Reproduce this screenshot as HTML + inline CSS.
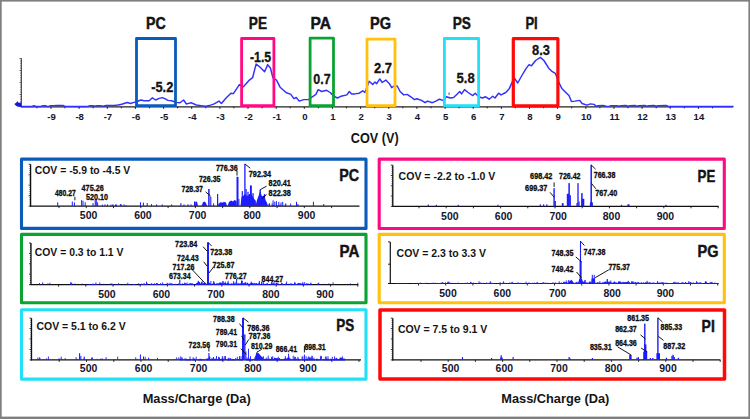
<!DOCTYPE html>
<html><head><meta charset="utf-8"><title>COV lipid classes</title>
<style>
html,body{margin:0;padding:0;background:#fff;}
body{width:750px;height:419px;overflow:hidden;font-family:"Liberation Sans",sans-serif;}
svg{display:block;font-family:"Liberation Sans",sans-serif;font-weight:bold;}
</style></head><body>
<svg width="750" height="419" viewBox="0 0 750 419">
<rect x="0" y="0" width="750" height="419" fill="#fff"/>
<line x1="21.3" y1="106.9" x2="733.0" y2="106.9" stroke="#222" stroke-width="1.1"/>
<line x1="21.3" y1="58.2" x2="21.3" y2="107.4" stroke="#111" stroke-width="0.9"/>
<line x1="19.5" y1="58.5" x2="21.3" y2="58.5" stroke="#111" stroke-width="0.6"/>
<line x1="20.3" y1="60.9" x2="21.3" y2="60.9" stroke="#111" stroke-width="0.6"/>
<line x1="20.3" y1="63.3" x2="21.3" y2="63.3" stroke="#111" stroke-width="0.6"/>
<line x1="20.3" y1="65.7" x2="21.3" y2="65.7" stroke="#111" stroke-width="0.6"/>
<line x1="20.3" y1="68.1" x2="21.3" y2="68.1" stroke="#111" stroke-width="0.6"/>
<line x1="19.5" y1="70.5" x2="21.3" y2="70.5" stroke="#111" stroke-width="0.6"/>
<line x1="20.3" y1="72.9" x2="21.3" y2="72.9" stroke="#111" stroke-width="0.6"/>
<line x1="20.3" y1="75.3" x2="21.3" y2="75.3" stroke="#111" stroke-width="0.6"/>
<line x1="20.3" y1="77.7" x2="21.3" y2="77.7" stroke="#111" stroke-width="0.6"/>
<line x1="20.3" y1="80.1" x2="21.3" y2="80.1" stroke="#111" stroke-width="0.6"/>
<line x1="19.5" y1="82.5" x2="21.3" y2="82.5" stroke="#111" stroke-width="0.6"/>
<line x1="20.3" y1="84.9" x2="21.3" y2="84.9" stroke="#111" stroke-width="0.6"/>
<line x1="20.3" y1="87.3" x2="21.3" y2="87.3" stroke="#111" stroke-width="0.6"/>
<line x1="20.3" y1="89.7" x2="21.3" y2="89.7" stroke="#111" stroke-width="0.6"/>
<line x1="20.3" y1="92.1" x2="21.3" y2="92.1" stroke="#111" stroke-width="0.6"/>
<line x1="19.5" y1="94.5" x2="21.3" y2="94.5" stroke="#111" stroke-width="0.6"/>
<line x1="20.3" y1="96.9" x2="21.3" y2="96.9" stroke="#111" stroke-width="0.6"/>
<line x1="20.3" y1="99.3" x2="21.3" y2="99.3" stroke="#111" stroke-width="0.6"/>
<line x1="20.3" y1="101.7" x2="21.3" y2="101.7" stroke="#111" stroke-width="0.6"/>
<line x1="20.3" y1="104.1" x2="21.3" y2="104.1" stroke="#111" stroke-width="0.6"/>
<line x1="19.5" y1="106.5" x2="21.3" y2="106.5" stroke="#111" stroke-width="0.6"/>
<line x1="36.9" y1="106.9" x2="36.9" y2="108.3" stroke="#111" stroke-width="0.9"/>
<line x1="51.0" y1="106.9" x2="51.0" y2="108.9" stroke="#111" stroke-width="0.9"/>
<line x1="65.0" y1="106.9" x2="65.0" y2="108.3" stroke="#111" stroke-width="0.9"/>
<line x1="79.1" y1="106.9" x2="79.1" y2="108.9" stroke="#111" stroke-width="0.9"/>
<line x1="93.2" y1="106.9" x2="93.2" y2="108.3" stroke="#111" stroke-width="0.9"/>
<line x1="107.3" y1="106.9" x2="107.3" y2="108.9" stroke="#111" stroke-width="0.9"/>
<line x1="121.3" y1="106.9" x2="121.3" y2="108.3" stroke="#111" stroke-width="0.9"/>
<line x1="135.4" y1="106.9" x2="135.4" y2="108.9" stroke="#111" stroke-width="0.9"/>
<line x1="149.5" y1="106.9" x2="149.5" y2="108.3" stroke="#111" stroke-width="0.9"/>
<line x1="163.6" y1="106.9" x2="163.6" y2="108.9" stroke="#111" stroke-width="0.9"/>
<line x1="177.6" y1="106.9" x2="177.6" y2="108.3" stroke="#111" stroke-width="0.9"/>
<line x1="191.7" y1="106.9" x2="191.7" y2="108.9" stroke="#111" stroke-width="0.9"/>
<line x1="205.8" y1="106.9" x2="205.8" y2="108.3" stroke="#111" stroke-width="0.9"/>
<line x1="219.9" y1="106.9" x2="219.9" y2="108.9" stroke="#111" stroke-width="0.9"/>
<line x1="233.9" y1="106.9" x2="233.9" y2="108.3" stroke="#111" stroke-width="0.9"/>
<line x1="248.0" y1="106.9" x2="248.0" y2="108.9" stroke="#111" stroke-width="0.9"/>
<line x1="262.1" y1="106.9" x2="262.1" y2="108.3" stroke="#111" stroke-width="0.9"/>
<line x1="276.2" y1="106.9" x2="276.2" y2="108.9" stroke="#111" stroke-width="0.9"/>
<line x1="290.2" y1="106.9" x2="290.2" y2="108.3" stroke="#111" stroke-width="0.9"/>
<line x1="304.3" y1="106.9" x2="304.3" y2="108.9" stroke="#111" stroke-width="0.9"/>
<line x1="318.4" y1="106.9" x2="318.4" y2="108.3" stroke="#111" stroke-width="0.9"/>
<line x1="332.4" y1="106.9" x2="332.4" y2="108.9" stroke="#111" stroke-width="0.9"/>
<line x1="346.5" y1="106.9" x2="346.5" y2="108.3" stroke="#111" stroke-width="0.9"/>
<line x1="360.6" y1="106.9" x2="360.6" y2="108.9" stroke="#111" stroke-width="0.9"/>
<line x1="374.7" y1="106.9" x2="374.7" y2="108.3" stroke="#111" stroke-width="0.9"/>
<line x1="388.8" y1="106.9" x2="388.8" y2="108.9" stroke="#111" stroke-width="0.9"/>
<line x1="402.8" y1="106.9" x2="402.8" y2="108.3" stroke="#111" stroke-width="0.9"/>
<line x1="416.9" y1="106.9" x2="416.9" y2="108.9" stroke="#111" stroke-width="0.9"/>
<line x1="431.0" y1="106.9" x2="431.0" y2="108.3" stroke="#111" stroke-width="0.9"/>
<line x1="445.1" y1="106.9" x2="445.1" y2="108.9" stroke="#111" stroke-width="0.9"/>
<line x1="459.1" y1="106.9" x2="459.1" y2="108.3" stroke="#111" stroke-width="0.9"/>
<line x1="473.2" y1="106.9" x2="473.2" y2="108.9" stroke="#111" stroke-width="0.9"/>
<line x1="487.3" y1="106.9" x2="487.3" y2="108.3" stroke="#111" stroke-width="0.9"/>
<line x1="501.4" y1="106.9" x2="501.4" y2="108.9" stroke="#111" stroke-width="0.9"/>
<line x1="515.4" y1="106.9" x2="515.4" y2="108.3" stroke="#111" stroke-width="0.9"/>
<line x1="529.5" y1="106.9" x2="529.5" y2="108.9" stroke="#111" stroke-width="0.9"/>
<line x1="543.6" y1="106.9" x2="543.6" y2="108.3" stroke="#111" stroke-width="0.9"/>
<line x1="557.6" y1="106.9" x2="557.6" y2="108.9" stroke="#111" stroke-width="0.9"/>
<line x1="571.7" y1="106.9" x2="571.7" y2="108.3" stroke="#111" stroke-width="0.9"/>
<line x1="585.8" y1="106.9" x2="585.8" y2="108.9" stroke="#111" stroke-width="0.9"/>
<line x1="599.9" y1="106.9" x2="599.9" y2="108.3" stroke="#111" stroke-width="0.9"/>
<line x1="614.0" y1="106.9" x2="614.0" y2="108.9" stroke="#111" stroke-width="0.9"/>
<line x1="628.0" y1="106.9" x2="628.0" y2="108.3" stroke="#111" stroke-width="0.9"/>
<line x1="642.1" y1="106.9" x2="642.1" y2="108.9" stroke="#111" stroke-width="0.9"/>
<line x1="656.2" y1="106.9" x2="656.2" y2="108.3" stroke="#111" stroke-width="0.9"/>
<line x1="670.2" y1="106.9" x2="670.2" y2="108.9" stroke="#111" stroke-width="0.9"/>
<line x1="684.3" y1="106.9" x2="684.3" y2="108.3" stroke="#111" stroke-width="0.9"/>
<line x1="698.4" y1="106.9" x2="698.4" y2="108.9" stroke="#111" stroke-width="0.9"/>
<line x1="712.5" y1="106.9" x2="712.5" y2="108.3" stroke="#111" stroke-width="0.9"/>
<text x="51.6" y="119.5" font-size="9.59" text-anchor="middle" fill="#15152e">-9</text>
<text x="79.7" y="119.5" font-size="9.59" text-anchor="middle" fill="#15152e">-8</text>
<text x="107.9" y="119.5" font-size="9.59" text-anchor="middle" fill="#15152e">-7</text>
<text x="136.0" y="119.5" font-size="9.59" text-anchor="middle" fill="#15152e">-6</text>
<text x="164.2" y="119.5" font-size="9.59" text-anchor="middle" fill="#15152e">-5</text>
<text x="192.3" y="119.5" font-size="9.59" text-anchor="middle" fill="#15152e">-4</text>
<text x="220.5" y="119.5" font-size="9.59" text-anchor="middle" fill="#15152e">-3</text>
<text x="248.6" y="119.5" font-size="9.59" text-anchor="middle" fill="#15152e">-2</text>
<text x="276.8" y="119.5" font-size="9.59" text-anchor="middle" fill="#15152e">-1</text>
<text x="304.8" y="119.5" font-size="9.59" text-anchor="middle" fill="#15152e">0</text>
<text x="332.9" y="119.5" font-size="9.59" text-anchor="middle" fill="#15152e">1</text>
<text x="361.1" y="119.5" font-size="9.59" text-anchor="middle" fill="#15152e">2</text>
<text x="389.2" y="119.5" font-size="9.59" text-anchor="middle" fill="#15152e">3</text>
<text x="417.4" y="119.5" font-size="9.59" text-anchor="middle" fill="#15152e">4</text>
<text x="445.6" y="119.5" font-size="9.59" text-anchor="middle" fill="#15152e">5</text>
<text x="473.7" y="119.5" font-size="9.59" text-anchor="middle" fill="#15152e">6</text>
<text x="501.9" y="119.5" font-size="9.59" text-anchor="middle" fill="#15152e">7</text>
<text x="530.0" y="119.5" font-size="9.59" text-anchor="middle" fill="#15152e">8</text>
<text x="558.1" y="119.5" font-size="9.59" text-anchor="middle" fill="#15152e">9</text>
<text x="586.3" y="119.5" font-size="9.59" text-anchor="middle" fill="#15152e">10</text>
<text x="614.5" y="119.5" font-size="9.59" text-anchor="middle" fill="#15152e">11</text>
<text x="642.6" y="119.5" font-size="9.59" text-anchor="middle" fill="#15152e">12</text>
<text x="670.8" y="119.5" font-size="9.59" text-anchor="middle" fill="#15152e">13</text>
<text x="698.9" y="119.5" font-size="9.59" text-anchor="middle" fill="#15152e">14</text>
<path d="M21.3,106.4 L28.0,106.4 L32.0,106.5 L34.0,105.7 L36.0,106.4 L41.0,106.4 L43.0,105.7 L45.5,105.6 L47.0,106.4 L49.0,106.4 L50.5,105.6 L54.0,105.6 L56.0,105.5 L63.0,105.5 L65.0,106.4 L84.0,106.5 L88.0,106.4 L90.0,105.6 L93.0,105.6 L95.0,106.3 L97.0,105.6 L100.0,105.6 L103.0,106.2 L106.0,105.5 L112.0,105.5 L115.0,105.3 L118.0,105.0 L121.7,104.2 L127.2,102.5 L130.7,103.5 L133.0,102.6 L136.0,102.0 L140.8,100.0 L144.0,100.8 L149.2,100.8 L152.4,97.8 L155.6,100.0 L159.2,98.4 L162.4,97.6 L164.8,98.6 L168.0,100.4 L171.6,100.8 L176.0,102.4 L180.0,102.8 L183.6,100.0 L186.4,104.0 L188.5,103.4 L191.5,102.8 L196.3,105.0 L201.0,105.6 L205.9,106.2 L210.6,105.1 L214.2,103.9 L219.0,101.1 L221.4,103.5 L226.1,98.0 L230.9,93.2 L233.4,93.6 L239.4,84.6 L243.4,86.8 L249.4,80.1 L252.6,77.7 L256.1,64.1 L259.9,67.0 L264.6,71.7 L267.7,64.6 L270.5,68.2 L272.9,77.7 L276.5,80.1 L280.1,87.2 L286.0,92.5 L290.8,94.4 L293.9,98.7 L296.3,97.5 L299.2,101.1 L303.9,99.6 L308.7,99.6 L312.3,96.8 L315.9,94.4 L318.2,89.6 L321.8,91.5 L326.6,90.3 L330.2,92.5 L333.0,95.6 L337.3,98.0 L340.9,96.3 L346.9,94.9 L349.3,91.5 L351.6,93.9 L354.8,93.9 L359.2,93.2 L362.8,90.8 L364.8,92.5 L367.2,86.8 L369.1,81.3 L372.7,84.4 L375.0,82.0 L376.7,83.7 L379.8,78.9 L382.2,82.5 L385.8,80.1 L389.4,83.7 L391.7,87.7 L394.1,86.0 L397.2,86.0 L400.1,91.5 L403.7,94.9 L407.2,94.4 L410.8,96.8 L414.4,99.6 L416.8,98.7 L421.5,100.4 L425.1,102.7 L427.5,101.1 L432.3,102.7 L435.9,101.1 L439.4,99.2 L443.0,100.4 L446.6,96.8 L450.2,98.0 L453.7,97.5 L457.3,93.9 L459.7,91.5 L461.6,93.9 L464.5,89.6 L468.1,92.5 L472.8,95.6 L475.2,93.2 L478.8,96.8 L482.4,98.0 L485.7,96.8 L489.1,99.2 L492.7,96.3 L495.0,98.0 L498.6,93.2 L501.0,94.9 L505.8,92.5 L509.4,88.4 L514.1,77.7 L517.7,83.0 L521.3,76.5 L526.0,68.6 L529.1,64.6 L531.5,65.8 L535.6,60.5 L540.4,57.4 L543.9,60.5 L548.7,68.2 L552.3,71.7 L555.4,73.4 L559.4,83.7 L561.8,88.4 L566.6,93.2 L569.0,95.6 L571.4,101.5 L574.9,101.1 L579.7,100.4 L582.1,103.5 L586.9,105.1 L590.4,103.9 L594.0,104.4 L596.4,106.3 L598.0,105.6 L603.0,105.5 L606.0,106.3 L609.0,106.4 L611.0,105.6 L617.0,105.6 L619.0,106.3 L621.0,105.6 L626.0,105.5 L628.0,106.3 L630.0,105.6 L635.0,105.5 L637.0,106.3 L639.0,105.6 L645.0,105.5 L647.0,106.3 L649.0,105.6 L654.0,105.5 L656.0,106.2 L658.0,105.6 L666.0,105.5 L668.5,106.4 L700.0,106.4 L733.0,106.4" fill="none" stroke="#3030ff" stroke-width="1.45" stroke-linejoin="round" stroke-linecap="round"/>
<path d="M14.3,104 L16.2,102.8 L17.6,101.2 L18.8,103 L20.5,102.2 L21.2,104.5 L21.3,107 L18,106.8 L16,105.8 Z" fill="#1616d8"/>
<rect x="448.3" y="92.6" width="1.6" height="2.2" fill="#555" opacity="0.7"/>
<rect x="136.5" y="38.5" width="39.0" height="67.2" fill="none" stroke="#0b5cba" stroke-width="2.8" stroke-linejoin="round"/>
<rect x="241.6" y="38.5" width="32.3" height="67.2" fill="none" stroke="#ff0a84" stroke-width="2.8" stroke-linejoin="round"/>
<rect x="310.1" y="38.2" width="23.4" height="67.5" fill="none" stroke="#0aa233" stroke-width="2.8" stroke-linejoin="round"/>
<rect x="367.0" y="39.2" width="28.0" height="66.5" fill="none" stroke="#ffc10d" stroke-width="2.8" stroke-linejoin="round"/>
<rect x="444.4" y="38.5" width="34.2" height="67.2" fill="none" stroke="#22e0f8" stroke-width="2.8" stroke-linejoin="round"/>
<rect x="513.3" y="38.6" width="44.6" height="67.2" fill="none" stroke="#ff0808" stroke-width="3.2" stroke-linejoin="round"/>
<text x="146.1" y="29.0" font-size="16.86" textLength="19.7" lengthAdjust="spacingAndGlyphs" fill="#141414" stroke="#141414" stroke-width="0.45">PC</text>
<text x="248.8" y="29.0" font-size="16.86" textLength="18.2" lengthAdjust="spacingAndGlyphs" fill="#141414" stroke="#141414" stroke-width="0.45">PE</text>
<text x="310.4" y="29.0" font-size="16.86" textLength="20.5" lengthAdjust="spacingAndGlyphs" fill="#141414" stroke="#141414" stroke-width="0.45">PA</text>
<text x="370.0" y="29.0" font-size="16.86" textLength="21.0" lengthAdjust="spacingAndGlyphs" fill="#141414" stroke="#141414" stroke-width="0.45">PG</text>
<text x="452.7" y="29.0" font-size="16.86" textLength="18.2" lengthAdjust="spacingAndGlyphs" fill="#141414" stroke="#141414" stroke-width="0.45">PS</text>
<text x="525.4" y="29.0" font-size="16.86" textLength="12.3" lengthAdjust="spacingAndGlyphs" fill="#141414" stroke="#141414" stroke-width="0.45">PI</text>
<text x="151.2" y="92.0" font-size="14.53" textLength="22.1" lengthAdjust="spacingAndGlyphs" fill="#141414" stroke="#141414" stroke-width="0.3">-5.2</text>
<text x="249.9" y="62.0" font-size="14.53" textLength="21.3" lengthAdjust="spacingAndGlyphs" fill="#141414" stroke="#141414" stroke-width="0.3">-1.5</text>
<text x="313.3" y="83.6" font-size="14.53" textLength="17.4" lengthAdjust="spacingAndGlyphs" fill="#141414" stroke="#141414" stroke-width="0.3">0.7</text>
<text x="373.9" y="73.0" font-size="14.53" textLength="18.1" lengthAdjust="spacingAndGlyphs" fill="#141414" stroke="#141414" stroke-width="0.3">2.7</text>
<text x="456.5" y="82.8" font-size="14.53" textLength="18.2" lengthAdjust="spacingAndGlyphs" fill="#141414" stroke="#141414" stroke-width="0.3">5.8</text>
<text x="532.0" y="55.4" font-size="14.53" textLength="17.9" lengthAdjust="spacingAndGlyphs" fill="#141414" stroke="#141414" stroke-width="0.3">8.3</text>
<text x="350.8" y="143.0" font-size="14.24" textLength="47.8" lengthAdjust="spacingAndGlyphs" fill="#141414">COV (V)</text>
<rect x="21.5" y="159.1" width="344.5" height="69.3" fill="none" stroke="#0b5cba" stroke-width="3.1" stroke-linejoin="round"/>
<line x1="30.6" y1="164.3" x2="30.6" y2="206.6" stroke="#111" stroke-width="1.3"/>
<line x1="28.6" y1="164.3" x2="30.6" y2="164.3" stroke="#111" stroke-width="0.85"/>
<line x1="29.5" y1="166.4" x2="30.6" y2="166.4" stroke="#111" stroke-width="0.85"/>
<line x1="29.5" y1="168.5" x2="30.6" y2="168.5" stroke="#111" stroke-width="0.85"/>
<line x1="29.5" y1="170.6" x2="30.6" y2="170.6" stroke="#111" stroke-width="0.85"/>
<line x1="29.5" y1="172.7" x2="30.6" y2="172.7" stroke="#111" stroke-width="0.85"/>
<line x1="28.6" y1="174.8" x2="30.6" y2="174.8" stroke="#111" stroke-width="0.85"/>
<line x1="29.5" y1="176.8" x2="30.6" y2="176.8" stroke="#111" stroke-width="0.85"/>
<line x1="29.5" y1="178.9" x2="30.6" y2="178.9" stroke="#111" stroke-width="0.85"/>
<line x1="29.5" y1="181.0" x2="30.6" y2="181.0" stroke="#111" stroke-width="0.85"/>
<line x1="29.5" y1="183.1" x2="30.6" y2="183.1" stroke="#111" stroke-width="0.85"/>
<line x1="28.6" y1="185.2" x2="30.6" y2="185.2" stroke="#111" stroke-width="0.85"/>
<line x1="29.5" y1="187.3" x2="30.6" y2="187.3" stroke="#111" stroke-width="0.85"/>
<line x1="29.5" y1="189.4" x2="30.6" y2="189.4" stroke="#111" stroke-width="0.85"/>
<line x1="29.5" y1="191.5" x2="30.6" y2="191.5" stroke="#111" stroke-width="0.85"/>
<line x1="29.5" y1="193.6" x2="30.6" y2="193.6" stroke="#111" stroke-width="0.85"/>
<line x1="28.6" y1="195.7" x2="30.6" y2="195.7" stroke="#111" stroke-width="0.85"/>
<line x1="29.5" y1="197.7" x2="30.6" y2="197.7" stroke="#111" stroke-width="0.85"/>
<line x1="29.5" y1="199.8" x2="30.6" y2="199.8" stroke="#111" stroke-width="0.85"/>
<line x1="29.5" y1="201.9" x2="30.6" y2="201.9" stroke="#111" stroke-width="0.85"/>
<line x1="29.5" y1="204.0" x2="30.6" y2="204.0" stroke="#111" stroke-width="0.85"/>
<line x1="28.6" y1="206.1" x2="30.6" y2="206.1" stroke="#111" stroke-width="0.85"/>
<line x1="30.0" y1="206.1" x2="359.5" y2="206.1" stroke="#111" stroke-width="1.2"/>
<line x1="59.0" y1="206.1" x2="59.0" y2="208.1" stroke="#111" stroke-width="0.9"/>
<line x1="86.3" y1="206.1" x2="86.3" y2="208.1" stroke="#111" stroke-width="0.9"/>
<line x1="113.5" y1="206.1" x2="113.5" y2="208.1" stroke="#111" stroke-width="0.9"/>
<line x1="140.8" y1="206.1" x2="140.8" y2="208.1" stroke="#111" stroke-width="0.9"/>
<line x1="168.1" y1="206.1" x2="168.1" y2="208.1" stroke="#111" stroke-width="0.9"/>
<line x1="195.3" y1="206.1" x2="195.3" y2="208.1" stroke="#111" stroke-width="0.9"/>
<line x1="222.6" y1="206.1" x2="222.6" y2="208.1" stroke="#111" stroke-width="0.9"/>
<line x1="249.8" y1="206.1" x2="249.8" y2="208.1" stroke="#111" stroke-width="0.9"/>
<line x1="277.1" y1="206.1" x2="277.1" y2="208.1" stroke="#111" stroke-width="0.9"/>
<line x1="304.3" y1="206.1" x2="304.3" y2="208.1" stroke="#111" stroke-width="0.9"/>
<line x1="331.6" y1="206.1" x2="331.6" y2="208.1" stroke="#111" stroke-width="0.9"/>
<text x="88.6" y="219.4" font-size="10.47" text-anchor="middle" fill="#15152e">500</text>
<text x="142.9" y="219.4" font-size="10.47" text-anchor="middle" fill="#15152e">600</text>
<text x="197.6" y="219.4" font-size="10.47" text-anchor="middle" fill="#15152e">700</text>
<text x="252.2" y="219.4" font-size="10.47" text-anchor="middle" fill="#15152e">800</text>
<text x="306.6" y="219.4" font-size="10.47" text-anchor="middle" fill="#15152e">900</text>
<text x="34.8" y="174.0" font-size="10.61" textLength="95.5" lengthAdjust="spacingAndGlyphs" fill="#141414">COV = -5.9 to -4.5 V</text>
<text x="339.2" y="180.6" font-size="16.28" textLength="19.8" lengthAdjust="spacingAndGlyphs" fill="#141414" stroke="#141414" stroke-width="0.45">PC</text>
<rect x="57.20" y="202.3" width="1.00" height="3.8" fill="#1c1cff"/>
<rect x="71.80" y="201.5" width="1.00" height="4.6" fill="#1c1cff"/>
<rect x="73.90" y="202.3" width="1.00" height="3.8" fill="#1c1cff"/>
<rect x="81.10" y="200.1" width="1.00" height="6.0" fill="#1c1cff"/>
<rect x="82.50" y="200.8" width="1.00" height="5.3" fill="#1c1cff"/>
<rect x="84.70" y="202.3" width="1.00" height="3.8" fill="#1c1cff"/>
<rect x="92.50" y="203.0" width="1.00" height="3.1" fill="#1c1cff"/>
<rect x="94.70" y="200.1" width="1.00" height="6.0" fill="#1c1cff"/>
<rect x="95.60" y="199.4" width="1.20" height="6.7" fill="#1c1cff"/>
<rect x="97.10" y="202.3" width="1.00" height="3.8" fill="#1c1cff"/>
<rect x="104.55" y="204.3" width="0.90" height="1.8" fill="#1c1cff"/>
<rect x="107.05" y="204.3" width="0.90" height="1.8" fill="#1c1cff"/>
<rect x="110.55" y="204.5" width="0.90" height="1.6" fill="#1c1cff"/>
<rect x="112.55" y="204.3" width="0.90" height="1.8" fill="#1c1cff"/>
<rect x="115.55" y="204.5" width="0.90" height="1.6" fill="#1c1cff"/>
<rect x="123.55" y="204.3" width="0.90" height="1.8" fill="#1c1cff"/>
<rect x="140.00" y="202.3" width="1.00" height="3.8" fill="#1c1cff"/>
<rect x="142.90" y="202.6" width="1.00" height="3.5" fill="#1c1cff"/>
<rect x="146.70" y="203.0" width="1.00" height="3.1" fill="#1c1cff"/>
<rect x="151.00" y="204.1" width="1.00" height="2.0" fill="#1c1cff"/>
<rect x="156.00" y="204.4" width="1.00" height="1.7" fill="#1c1cff"/>
<rect x="161.80" y="204.4" width="1.00" height="1.7" fill="#1c1cff"/>
<rect x="171.10" y="204.4" width="1.00" height="1.7" fill="#1c1cff"/>
<rect x="180.40" y="203.0" width="1.00" height="3.1" fill="#1c1cff"/>
<rect x="183.50" y="204.4" width="1.00" height="1.7" fill="#1c1cff"/>
<rect x="187.50" y="204.2" width="1.00" height="1.9" fill="#1c1cff"/>
<rect x="190.50" y="204.4" width="1.00" height="1.7" fill="#1c1cff"/>
<rect x="194.00" y="201.5" width="1.00" height="4.6" fill="#1c1cff"/>
<rect x="195.50" y="201.5" width="1.00" height="4.6" fill="#1c1cff"/>
<rect x="208.15" y="189.0" width="1.50" height="17.1" fill="#1c1cff"/>
<rect x="210.25" y="196.8" width="1.10" height="9.3" fill="#1c1cff"/>
<rect x="213.10" y="203.3" width="1.00" height="2.8" fill="#1c1cff"/>
<rect x="217.00" y="194.0" width="1.20" height="12.1" fill="#1c1cff"/>
<rect x="236.50" y="176.8" width="2.00" height="29.3" fill="#1c1cff"/>
<rect x="238.40" y="199.0" width="1.00" height="7.1" fill="#1c1cff"/>
<rect x="241.70" y="191.1" width="1.20" height="15.0" fill="#1c1cff"/>
<rect x="243.20" y="196.1" width="1.00" height="10.0" fill="#1c1cff"/>
<rect x="244.25" y="163.9" width="1.30" height="42.2" fill="#1c1cff"/>
<rect x="245.50" y="189.0" width="1.20" height="17.1" fill="#1c1cff"/>
<rect x="247.40" y="191.8" width="1.20" height="14.3" fill="#1c1cff"/>
<rect x="248.85" y="194.0" width="1.10" height="12.1" fill="#1c1cff"/>
<rect x="249.95" y="185.4" width="1.90" height="20.7" fill="#1c1cff"/>
<rect x="252.35" y="193.2" width="1.30" height="12.9" fill="#1c1cff"/>
<rect x="254.60" y="200.4" width="1.20" height="5.7" fill="#1c1cff"/>
<rect x="259.50" y="189.7" width="1.40" height="16.4" fill="#1c1cff"/>
<rect x="261.70" y="196.1" width="1.20" height="10.0" fill="#1c1cff"/>
<rect x="263.90" y="194.0" width="1.20" height="12.1" fill="#1c1cff"/>
<rect x="265.40" y="201.8" width="1.00" height="4.3" fill="#1c1cff"/>
<rect x="269.00" y="203.3" width="1.00" height="2.8" fill="#1c1cff"/>
<rect x="272.60" y="200.4" width="1.00" height="5.7" fill="#1c1cff"/>
<rect x="274.30" y="201.8" width="1.00" height="4.3" fill="#1c1cff"/>
<rect x="275.90" y="201.1" width="1.00" height="5.0" fill="#1c1cff"/>
<rect x="278.30" y="201.8" width="1.00" height="4.3" fill="#1c1cff"/>
<rect x="280.50" y="202.5" width="1.00" height="3.6" fill="#1c1cff"/>
<rect x="282.20" y="201.8" width="1.00" height="4.3" fill="#1c1cff"/>
<rect x="295.95" y="201.8" width="1.10" height="4.3" fill="#1c1cff"/>
<rect x="297.40" y="204.0" width="1.00" height="2.1" fill="#1c1cff"/>
<rect x="312.90" y="201.8" width="1.00" height="4.3" fill="#1c1cff"/>
<rect x="323.20" y="204.0" width="1.00" height="2.1" fill="#1c1cff"/>
<path d="M195.0,206.1 L195.5,202.0 L197.0,201.8 L198.0,206.1 Z" fill="#1c1cff"/>
<path d="M201.5,206.1 L203.0,202.2 L204.5,201.5 L206.0,203.0 L207.0,206.1 Z" fill="#1c1cff"/>
<path d="M218.5,206.1 L219.5,203.0 L221.0,202.0 L222.5,203.2 L224.0,201.8 L226.0,203.0 L227.0,206.1 Z" fill="#1c1cff"/>
<path d="M227.5,206.1 L229.0,202.0 L231.0,200.5 L233.0,201.5 L234.5,200.0 L236.5,201.0 L236.8,206.1 Z" fill="#1c1cff"/>
<path d="M240.5,206.1 L241.5,197.0 L243.0,196.0 L245.0,194.0 L247.0,196.0 L249.0,195.0 L251.0,194.0 L253.0,197.0 L255.0,200.0 L256.0,206.1 Z" fill="#1c1cff"/>
<path d="M255.5,206.1 L257.0,200.0 L258.5,196.0 L260.2,191.0 L262.0,196.5 L264.0,195.5 L265.5,200.0 L267.0,203.0 L268.0,206.1 Z" fill="#1c1cff"/>
<path d="M102.4,206.1v-1.5M112.7,206.1v-1.3M115.6,206.1v-1.6M116.4,206.1v-1.4M120.4,206.1v-2.0M120.8,206.1v-1.1M121.1,206.1v-2.1M125.9,206.1v-0.8" stroke="#1c1cff" stroke-width="0.9" fill="none" opacity="1"/>
<path d="M218.7,206.1v-2.6M219.9,206.1v-1.0M219.9,206.1v-1.5M220.3,206.1v-3.3M221.6,206.1v-2.4M222.5,206.1v-2.6M222.7,206.1v-1.7M222.9,206.1v-3.8M223.0,206.1v-3.3M223.0,206.1v-2.7M223.5,206.1v-1.6M225.5,206.1v-0.8M225.6,206.1v-3.8M226.4,206.1v-0.9M231.2,206.1v-4.0M231.4,206.1v-1.7M231.5,206.1v-1.3M232.6,206.1v-1.0M233.9,206.1v-0.8M234.2,206.1v-3.3M234.7,206.1v-1.7M235.7,206.1v-1.9" stroke="#1c1cff" stroke-width="0.9" fill="none" opacity="1"/>
<path d="M268.9,206.1v-2.2M272.1,206.1v-2.7M272.7,206.1v-1.0M273.2,206.1v-1.0M277.0,206.1v-0.9M279.1,206.1v-1.0M280.1,206.1v-1.5M285.3,206.1v-1.9M285.4,206.1v-1.1M285.8,206.1v-2.8M290.6,206.1v-2.6" stroke="#1c1cff" stroke-width="0.9" fill="none" opacity="1"/>
<line x1="74.9" y1="196.8" x2="74.9" y2="200.3" stroke="#0a0a0a" stroke-width="0.95"/>
<line x1="205.6" y1="191.9" x2="210.6" y2="196.1" stroke="#0a0a0a" stroke-width="0.95"/>
<line x1="237.0" y1="171.0" x2="237.0" y2="175.6" stroke="#0a0a0a" stroke-width="0.95"/>
<line x1="244.9" y1="163.9" x2="250.2" y2="168.2" stroke="#0a0a0a" stroke-width="0.95"/>
<line x1="260.2" y1="189.7" x2="266.6" y2="186.1" stroke="#0a0a0a" stroke-width="0.95"/>
<line x1="262.3" y1="198.3" x2="266.6" y2="194.7" stroke="#0a0a0a" stroke-width="0.95"/>
<text x="55.0" y="195.8" font-size="8.14" textLength="20.8" lengthAdjust="spacingAndGlyphs" fill="#0c0c0c" stroke="#0c0c0c" stroke-width="0.3">480.27</text>
<text x="81.6" y="190.8" font-size="8.14" textLength="22.1" lengthAdjust="spacingAndGlyphs" fill="#0c0c0c" stroke="#0c0c0c" stroke-width="0.3">475.26</text>
<text x="85.9" y="200.2" font-size="8.14" textLength="22.1" lengthAdjust="spacingAndGlyphs" fill="#0c0c0c" stroke="#0c0c0c" stroke-width="0.3">520.10</text>
<text x="181.5" y="192.1" font-size="8.14" textLength="21.5" lengthAdjust="spacingAndGlyphs" fill="#0c0c0c" stroke="#0c0c0c" stroke-width="0.3">728.37</text>
<text x="198.9" y="181.9" font-size="8.14" textLength="21.6" lengthAdjust="spacingAndGlyphs" fill="#0c0c0c" stroke="#0c0c0c" stroke-width="0.3">726.35</text>
<text x="215.9" y="170.5" font-size="8.14" textLength="21.8" lengthAdjust="spacingAndGlyphs" fill="#0c0c0c" stroke="#0c0c0c" stroke-width="0.3">776.36</text>
<text x="248.8" y="177.4" font-size="8.14" textLength="22.3" lengthAdjust="spacingAndGlyphs" fill="#0c0c0c" stroke="#0c0c0c" stroke-width="0.3">792.34</text>
<text x="268.6" y="185.7" font-size="8.14" textLength="22.3" lengthAdjust="spacingAndGlyphs" fill="#0c0c0c" stroke="#0c0c0c" stroke-width="0.3">820.41</text>
<text x="268.6" y="195.9" font-size="8.14" textLength="22.3" lengthAdjust="spacingAndGlyphs" fill="#0c0c0c" stroke="#0c0c0c" stroke-width="0.3">822.38</text>
<rect x="21.5" y="234.4" width="344.5" height="68.4" fill="none" stroke="#0aa233" stroke-width="3.1" stroke-linejoin="round"/>
<line x1="31.0" y1="243.0" x2="31.0" y2="285.1" stroke="#111" stroke-width="1.3"/>
<line x1="29.0" y1="243.0" x2="31.0" y2="243.0" stroke="#111" stroke-width="0.85"/>
<line x1="29.9" y1="245.1" x2="31.0" y2="245.1" stroke="#111" stroke-width="0.85"/>
<line x1="29.9" y1="247.2" x2="31.0" y2="247.2" stroke="#111" stroke-width="0.85"/>
<line x1="29.9" y1="249.2" x2="31.0" y2="249.2" stroke="#111" stroke-width="0.85"/>
<line x1="29.9" y1="251.3" x2="31.0" y2="251.3" stroke="#111" stroke-width="0.85"/>
<line x1="29.0" y1="253.4" x2="31.0" y2="253.4" stroke="#111" stroke-width="0.85"/>
<line x1="29.9" y1="255.5" x2="31.0" y2="255.5" stroke="#111" stroke-width="0.85"/>
<line x1="29.9" y1="257.6" x2="31.0" y2="257.6" stroke="#111" stroke-width="0.85"/>
<line x1="29.9" y1="259.6" x2="31.0" y2="259.6" stroke="#111" stroke-width="0.85"/>
<line x1="29.9" y1="261.7" x2="31.0" y2="261.7" stroke="#111" stroke-width="0.85"/>
<line x1="29.0" y1="263.8" x2="31.0" y2="263.8" stroke="#111" stroke-width="0.85"/>
<line x1="29.9" y1="265.9" x2="31.0" y2="265.9" stroke="#111" stroke-width="0.85"/>
<line x1="29.9" y1="268.0" x2="31.0" y2="268.0" stroke="#111" stroke-width="0.85"/>
<line x1="29.9" y1="270.0" x2="31.0" y2="270.0" stroke="#111" stroke-width="0.85"/>
<line x1="29.9" y1="272.1" x2="31.0" y2="272.1" stroke="#111" stroke-width="0.85"/>
<line x1="29.0" y1="274.2" x2="31.0" y2="274.2" stroke="#111" stroke-width="0.85"/>
<line x1="29.9" y1="276.3" x2="31.0" y2="276.3" stroke="#111" stroke-width="0.85"/>
<line x1="29.9" y1="278.4" x2="31.0" y2="278.4" stroke="#111" stroke-width="0.85"/>
<line x1="29.9" y1="280.4" x2="31.0" y2="280.4" stroke="#111" stroke-width="0.85"/>
<line x1="29.9" y1="282.5" x2="31.0" y2="282.5" stroke="#111" stroke-width="0.85"/>
<line x1="29.0" y1="284.6" x2="31.0" y2="284.6" stroke="#111" stroke-width="0.85"/>
<line x1="30.4" y1="284.6" x2="358.3" y2="284.6" stroke="#111" stroke-width="1.2"/>
<line x1="58.6" y1="284.6" x2="58.6" y2="286.6" stroke="#111" stroke-width="0.9"/>
<line x1="85.8" y1="284.6" x2="85.8" y2="286.6" stroke="#111" stroke-width="0.9"/>
<line x1="113.0" y1="284.6" x2="113.0" y2="286.6" stroke="#111" stroke-width="0.9"/>
<line x1="140.2" y1="284.6" x2="140.2" y2="286.6" stroke="#111" stroke-width="0.9"/>
<line x1="167.4" y1="284.6" x2="167.4" y2="286.6" stroke="#111" stroke-width="0.9"/>
<line x1="194.6" y1="284.6" x2="194.6" y2="286.6" stroke="#111" stroke-width="0.9"/>
<line x1="221.8" y1="284.6" x2="221.8" y2="286.6" stroke="#111" stroke-width="0.9"/>
<line x1="249.0" y1="284.6" x2="249.0" y2="286.6" stroke="#111" stroke-width="0.9"/>
<line x1="276.2" y1="284.6" x2="276.2" y2="286.6" stroke="#111" stroke-width="0.9"/>
<line x1="303.4" y1="284.6" x2="303.4" y2="286.6" stroke="#111" stroke-width="0.9"/>
<line x1="330.6" y1="284.6" x2="330.6" y2="286.6" stroke="#111" stroke-width="0.9"/>
<line x1="357.8" y1="284.6" x2="357.8" y2="286.6" stroke="#111" stroke-width="0.9"/>
<text x="106.9" y="297.9" font-size="10.47" text-anchor="middle" fill="#15152e">500</text>
<text x="161.4" y="297.9" font-size="10.47" text-anchor="middle" fill="#15152e">600</text>
<text x="215.9" y="297.9" font-size="10.47" text-anchor="middle" fill="#15152e">700</text>
<text x="270.9" y="297.9" font-size="10.47" text-anchor="middle" fill="#15152e">800</text>
<text x="325.0" y="297.9" font-size="10.47" text-anchor="middle" fill="#15152e">900</text>
<text x="34.8" y="255.8" font-size="10.61" textLength="88.6" lengthAdjust="spacingAndGlyphs" fill="#141414">COV = 0.3 to 1.1 V</text>
<text x="339.5" y="257.2" font-size="16.28" textLength="19.8" lengthAdjust="spacingAndGlyphs" fill="#141414" stroke="#141414" stroke-width="0.45">PA</text>
<path d="M39.5,284.6v-1.6M47.9,284.6v-1.3M49.9,284.6v-1.8" stroke="#1c1cff" stroke-width="0.9" fill="none" opacity="1"/>
<path d="M70.6,284.6v-0.9M70.7,284.6v-2.4M71.3,284.6v-0.9M74.9,284.6v-1.1M82.2,284.6v-1.0M92.9,284.6v-1.1M95.9,284.6v-2.2M99.8,284.6v-2.2M103.9,284.6v-0.8M111.0,284.6v-1.5M112.3,284.6v-0.9M118.6,284.6v-1.5M127.8,284.6v-1.9M138.7,284.6v-1.4" stroke="#1c1cff" stroke-width="0.9" fill="none" opacity="1"/>
<path d="M88.0,285.1 L88.0,284.1 L89.0,285.1 L89.6,284.5 L90.3,284.6 L91.3,285.1 L91.9,284.3 L92.5,284.0 L93.5,283.7 L94.0,284.2 L94.7,284.5 L95.6,284.3 L96.2,285.1 L96.9,283.8 L97.8,285.1 L98.5,284.5 L99.5,285.1 L100.5,285.1 L101.5,285.1 L102.3,285.1 L103.0,285.1 L104.0,285.1 L104.7,284.6 L105.4,285.1 L106.2,285.1 L107.2,285.1 L107.8,285.1 L108.3,285.1 L109.0,285.1 L109.8,284.5 L110.6,285.1 L111.4,284.5 L112.3,283.9 L113.2,285.1 L113.8,284.5 L114.7,285.1 L115.5,285.1 L116.3,285.1 L117.3,284.1 L118.1,285.1 L118.8,284.5 L119.5,284.5 L120.6,285.1 L121.5,285.1 L122.2,285.1 L123.1,285.1 L124.0,284.6 L124.8,285.1 L125.5,284.4 L126.2,285.1 L127.2,285.1 L128.1,284.1 L129.1,285.1 L129.9,284.6 L130.7,285.1 L131.3,285.1 L131.9,284.6 L132.8,284.6 L133.8,284.3 L134.6,284.2 L135.2,284.5 L136.1,285.1 L137.0,285.1 L137.9,285.1 L138.8,285.1 L139.5,285.1 L140.0,285.1 Z" fill="#1c1cff"/>
<path d="M140.0,285.1 L140.0,285.1 L140.6,284.2 L141.2,284.0 L141.9,283.2 L142.5,285.1 L143.1,284.3 L144.1,282.8 L144.8,283.9 L145.7,284.2 L146.3,284.3 L146.9,283.6 L147.6,283.0 L148.3,285.1 L149.0,285.1 L149.8,285.1 L150.7,284.0 L151.4,282.9 L152.4,284.2 L153.1,284.2 L153.9,284.3 L154.6,284.1 L155.5,284.0 L156.3,283.5 L157.1,283.9 L157.9,284.2 L158.8,284.2 L159.9,285.1 L160.6,284.0 L161.6,283.9 L162.1,284.1 L162.9,284.2 L163.5,285.1 L164.4,283.9 L165.2,285.1 L166.2,285.1 L167.1,283.9 L167.8,283.1 L168.8,284.0 L169.6,284.1 L170.5,283.7 L171.3,283.2 L172.3,283.6 L173.1,283.9 L174.1,284.3 L174.7,285.1 L175.4,283.7 L176.0,283.7 L176.8,285.1 L177.4,285.1 L178.3,284.3 L179.3,284.1 L180.0,284.3 L181.0,284.1 L181.8,284.3 L182.9,285.1 L183.6,285.1 L184.3,285.1 L184.9,283.6 L185.7,282.9 L186.4,283.7 L187.1,285.1 L188.0,284.0 L188.9,284.0 L189.5,284.1 L190.3,283.3 L191.2,283.1 L191.9,284.2 L192.8,283.5 L193.9,285.1 L194.6,285.1 L195.3,283.6 L196.0,285.1 Z" fill="#1c1cff"/>
<path d="M196.0,285.1 L196.0,283.6 L197.0,283.4 L197.7,282.3 L198.3,283.8 L199.0,283.7 L199.9,282.9 L200.7,283.5 L201.4,283.3 L202.1,283.7 L202.9,283.6 L203.8,282.9 L204.7,283.1 L205.5,282.8 L206.1,283.6 L206.7,283.7 L207.3,283.6 L208.2,282.4 L209.1,282.6 L210.0,282.9 L211.0,283.7 L212.0,285.1 L213.0,283.9 L213.6,282.3 L214.6,282.9 L215.3,285.1 L216.2,282.4 L217.0,285.1 L217.6,283.8 L218.2,283.4 L218.8,283.8 L219.4,282.6 L220.1,282.6 L220.7,282.5 L221.7,282.8 L222.5,283.0 L223.4,285.1 L224.2,282.5 L224.9,283.5 L225.6,282.5 L226.5,283.8 L227.2,283.1 L228.2,282.4 L229.2,283.8 L229.9,283.8 L230.8,283.8 L231.4,283.9 L232.2,283.5 L232.9,283.7 L233.6,283.0 L234.4,283.9 L235.1,283.9 L235.9,283.8 L236.5,283.8 L237.3,283.7 L238.1,282.9 L239.2,283.8 L240.2,282.9 L240.9,283.7 L241.8,283.6 L242.7,283.7 L243.3,283.0 L244.3,283.6 L245.2,282.5 L245.8,283.6 L246.8,283.8 L247.3,282.3 L248.3,283.8 L248.9,283.4 L249.8,285.1 L250.8,283.0 L251.5,282.6 L252.1,282.6 L253.1,283.8 L253.9,283.7 L254.9,282.5 L255.6,283.7 L256.6,283.1 L257.3,283.9 L257.9,283.9 L258.8,283.8 L259.7,283.7 L260.3,283.9 L261.4,285.1 L262.0,285.1 Z" fill="#1c1cff"/>
<path d="M262.0,285.1 L262.0,283.4 L262.9,284.1 L263.8,283.0 L264.6,283.9 L265.7,285.1 L266.4,283.8 L267.0,282.9 L267.8,283.6 L268.7,284.2 L269.5,285.1 L270.1,283.4 L270.8,284.1 L271.5,285.1 L272.4,284.1 L273.0,285.1 L273.9,284.2 L274.8,283.8 L275.4,283.7 L276.2,282.9 L277.1,282.7 L278.0,284.2 L278.8,283.9 L279.9,284.2 L280.9,285.1 L281.7,283.3 L282.7,283.3 L283.3,284.2 L284.1,284.2 L285.0,285.1 L285.7,285.1 L286.6,284.2 L287.2,283.8 L287.7,285.1 L288.6,284.2 L289.3,285.1 L290.0,284.1 L290.7,284.0 L291.5,283.5 L292.3,285.1 L292.9,283.9 L293.9,284.0 L294.6,283.5 L295.2,283.0 L296.0,283.9 L296.9,284.2 L297.8,282.9 L298.7,282.9 L299.5,283.4 L300.1,283.1 L300.7,284.2 L301.7,283.9 L302.5,284.0 L303.2,285.1 L304.1,283.9 L305.1,284.1 L306.0,284.2 L307.0,283.3 L307.7,284.0 L308.3,285.1 L309.0,285.1 L309.9,285.1 L310.5,284.2 L311.5,285.1 L312.0,285.1 Z" fill="#1c1cff"/>
<path d="M146.5,284.6v-3.0M152.0,284.6v-0.8M154.3,284.6v-1.4M156.2,284.6v-0.9M156.7,284.6v-1.5M157.3,284.6v-1.5M157.4,284.6v-0.8M160.5,284.6v-1.4M162.3,284.6v-2.3M163.4,284.6v-0.8M167.2,284.6v-1.8M169.9,284.6v-1.9M178.7,284.6v-1.3M182.3,284.6v-1.3M184.4,284.6v-2.0M185.4,284.6v-0.8M187.0,284.6v-2.2M189.2,284.6v-1.5M191.8,284.6v-1.0M192.3,284.6v-1.2M196.5,284.6v-1.0M196.8,284.6v-0.9M196.9,284.6v-1.1M199.0,284.6v-2.5" stroke="#1c1cff" stroke-width="0.9" fill="none" opacity="1"/>
<path d="M198.1,284.6v-3.1M198.4,284.6v-3.8M198.8,284.6v-2.4M198.9,284.6v-2.7M199.2,284.6v-2.5M201.4,284.6v-2.8M202.3,284.6v-3.2M209.7,284.6v-0.9M210.9,284.6v-3.6M213.1,284.6v-1.6M213.7,284.6v-3.6M213.9,284.6v-2.7M217.0,284.6v-1.0M217.6,284.6v-1.2M218.9,284.6v-1.4M222.7,284.6v-3.4M223.3,284.6v-3.3M223.4,284.6v-0.9M225.3,284.6v-2.9M228.1,284.6v-3.8M231.4,284.6v-1.2M233.6,284.6v-3.4M233.8,284.6v-1.8M234.1,284.6v-0.9M235.2,284.6v-2.4M241.2,284.6v-0.9M242.4,284.6v-3.8M244.8,284.6v-1.9M245.3,284.6v-2.2M245.8,284.6v-2.3M247.5,284.6v-1.5M250.2,284.6v-1.5M251.2,284.6v-3.0M251.7,284.6v-1.0M253.1,284.6v-1.6M256.6,284.6v-1.1M257.4,284.6v-0.8M258.4,284.6v-1.3M259.4,284.6v-2.8M259.4,284.6v-3.7M261.5,284.6v-2.9" stroke="#1c1cff" stroke-width="0.9" fill="none" opacity="1"/>
<path d="M263.1,284.6v-2.9M267.2,284.6v-1.0M271.7,284.6v-2.0M271.8,284.6v-3.0M272.5,284.6v-1.2M273.7,284.6v-1.8M274.0,284.6v-2.1M278.0,284.6v-1.6M281.5,284.6v-1.9M285.4,284.6v-1.0M286.4,284.6v-1.5M286.6,284.6v-3.1M288.8,284.6v-0.9M290.8,284.6v-1.4M291.2,284.6v-0.9M292.6,284.6v-0.8M294.5,284.6v-1.6M294.8,284.6v-2.7M294.9,284.6v-0.9M298.6,284.6v-1.0M299.9,284.6v-1.7M301.1,284.6v-1.6M302.7,284.6v-1.5M302.8,284.6v-2.5M303.6,284.6v-0.8M304.7,284.6v-2.5M306.9,284.6v-1.5M308.4,284.6v-1.0M310.5,284.6v-1.2M310.7,284.6v-0.9M310.9,284.6v-2.1" stroke="#1c1cff" stroke-width="0.9" fill="none" opacity="1"/>
<path d="M317.5,284.6v-0.9M318.4,284.6v-1.5M318.7,284.6v-1.9M324.4,284.6v-0.8M329.0,284.6v-1.3M333.1,284.6v-2.3M350.4,284.6v-1.2M357.8,284.6v-1.9" stroke="#1c1cff" stroke-width="0.9" fill="none" opacity="1"/>
<rect x="42.20" y="282.4" width="1.00" height="2.2" fill="#1c1cff"/>
<rect x="71.20" y="282.6" width="1.00" height="2.0" fill="#1c1cff"/>
<rect x="179.25" y="279.7" width="1.10" height="4.9" fill="#1c1cff"/>
<rect x="207.00" y="242.4" width="2.00" height="42.2" fill="#1c1cff"/>
<rect x="236.10" y="279.0" width="1.00" height="5.6" fill="#1c1cff"/>
<rect x="241.00" y="280.5" width="1.00" height="4.1" fill="#1c1cff"/>
<line x1="203.0" y1="246.7" x2="207.0" y2="251.0" stroke="#0a0a0a" stroke-width="0.95"/>
<line x1="208.0" y1="242.4" x2="211.6" y2="246.0" stroke="#0a0a0a" stroke-width="0.95"/>
<line x1="203.7" y1="261.8" x2="207.0" y2="266.1" stroke="#0a0a0a" stroke-width="0.95"/>
<line x1="213.7" y1="266.8" x2="209.0" y2="273.0" stroke="#0a0a0a" stroke-width="0.95"/>
<line x1="190.8" y1="268.2" x2="205.1" y2="283.3" stroke="#0a0a0a" stroke-width="0.95"/>
<text x="175.1" y="246.5" font-size="8.14" textLength="22.3" lengthAdjust="spacingAndGlyphs" fill="#0c0c0c" stroke="#0c0c0c" stroke-width="0.3">723.84</text>
<text x="177.1" y="261.2" font-size="8.14" textLength="21.6" lengthAdjust="spacingAndGlyphs" fill="#0c0c0c" stroke="#0c0c0c" stroke-width="0.3">724.43</text>
<text x="172.6" y="270.1" font-size="8.14" textLength="21.8" lengthAdjust="spacingAndGlyphs" fill="#0c0c0c" stroke="#0c0c0c" stroke-width="0.3">717.26</text>
<text x="169.0" y="278.9" font-size="8.14" textLength="21.6" lengthAdjust="spacingAndGlyphs" fill="#0c0c0c" stroke="#0c0c0c" stroke-width="0.3">673.34</text>
<text x="210.3" y="255.4" font-size="8.14" textLength="22.1" lengthAdjust="spacingAndGlyphs" fill="#0c0c0c" stroke="#0c0c0c" stroke-width="0.3">723.38</text>
<text x="212.4" y="268.3" font-size="8.14" textLength="22.0" lengthAdjust="spacingAndGlyphs" fill="#0c0c0c" stroke="#0c0c0c" stroke-width="0.3">725.87</text>
<text x="225.0" y="278.9" font-size="8.14" textLength="21.6" lengthAdjust="spacingAndGlyphs" fill="#0c0c0c" stroke="#0c0c0c" stroke-width="0.3">776.27</text>
<text x="261.5" y="281.5" font-size="8.14" textLength="21.8" lengthAdjust="spacingAndGlyphs" fill="#0c0c0c" stroke="#0c0c0c" stroke-width="0.3">844.27</text>
<rect x="21.5" y="309.7" width="344.5" height="69.4" fill="none" stroke="#22e0f8" stroke-width="3.1" stroke-linejoin="round"/>
<line x1="31.5" y1="318.2" x2="31.5" y2="360.4" stroke="#111" stroke-width="1.3"/>
<line x1="29.5" y1="318.2" x2="31.5" y2="318.2" stroke="#111" stroke-width="0.85"/>
<line x1="30.4" y1="320.3" x2="31.5" y2="320.3" stroke="#111" stroke-width="0.85"/>
<line x1="30.4" y1="322.4" x2="31.5" y2="322.4" stroke="#111" stroke-width="0.85"/>
<line x1="30.4" y1="324.5" x2="31.5" y2="324.5" stroke="#111" stroke-width="0.85"/>
<line x1="30.4" y1="326.5" x2="31.5" y2="326.5" stroke="#111" stroke-width="0.85"/>
<line x1="29.5" y1="328.6" x2="31.5" y2="328.6" stroke="#111" stroke-width="0.85"/>
<line x1="30.4" y1="330.7" x2="31.5" y2="330.7" stroke="#111" stroke-width="0.85"/>
<line x1="30.4" y1="332.8" x2="31.5" y2="332.8" stroke="#111" stroke-width="0.85"/>
<line x1="30.4" y1="334.9" x2="31.5" y2="334.9" stroke="#111" stroke-width="0.85"/>
<line x1="30.4" y1="337.0" x2="31.5" y2="337.0" stroke="#111" stroke-width="0.85"/>
<line x1="29.5" y1="339.0" x2="31.5" y2="339.0" stroke="#111" stroke-width="0.85"/>
<line x1="30.4" y1="341.1" x2="31.5" y2="341.1" stroke="#111" stroke-width="0.85"/>
<line x1="30.4" y1="343.2" x2="31.5" y2="343.2" stroke="#111" stroke-width="0.85"/>
<line x1="30.4" y1="345.3" x2="31.5" y2="345.3" stroke="#111" stroke-width="0.85"/>
<line x1="30.4" y1="347.4" x2="31.5" y2="347.4" stroke="#111" stroke-width="0.85"/>
<line x1="29.5" y1="349.5" x2="31.5" y2="349.5" stroke="#111" stroke-width="0.85"/>
<line x1="30.4" y1="351.6" x2="31.5" y2="351.6" stroke="#111" stroke-width="0.85"/>
<line x1="30.4" y1="353.6" x2="31.5" y2="353.6" stroke="#111" stroke-width="0.85"/>
<line x1="30.4" y1="355.7" x2="31.5" y2="355.7" stroke="#111" stroke-width="0.85"/>
<line x1="30.4" y1="357.8" x2="31.5" y2="357.8" stroke="#111" stroke-width="0.85"/>
<line x1="29.5" y1="359.9" x2="31.5" y2="359.9" stroke="#111" stroke-width="0.85"/>
<line x1="30.9" y1="359.9" x2="361.0" y2="359.9" stroke="#111" stroke-width="1.2"/>
<line x1="59.2" y1="359.9" x2="59.2" y2="361.9" stroke="#111" stroke-width="0.9"/>
<line x1="86.5" y1="359.9" x2="86.5" y2="361.9" stroke="#111" stroke-width="0.9"/>
<line x1="113.8" y1="359.9" x2="113.8" y2="361.9" stroke="#111" stroke-width="0.9"/>
<line x1="141.0" y1="359.9" x2="141.0" y2="361.9" stroke="#111" stroke-width="0.9"/>
<line x1="168.2" y1="359.9" x2="168.2" y2="361.9" stroke="#111" stroke-width="0.9"/>
<line x1="195.5" y1="359.9" x2="195.5" y2="361.9" stroke="#111" stroke-width="0.9"/>
<line x1="222.8" y1="359.9" x2="222.8" y2="361.9" stroke="#111" stroke-width="0.9"/>
<line x1="250.0" y1="359.9" x2="250.0" y2="361.9" stroke="#111" stroke-width="0.9"/>
<line x1="277.2" y1="359.9" x2="277.2" y2="361.9" stroke="#111" stroke-width="0.9"/>
<line x1="304.5" y1="359.9" x2="304.5" y2="361.9" stroke="#111" stroke-width="0.9"/>
<line x1="331.8" y1="359.9" x2="331.8" y2="361.9" stroke="#111" stroke-width="0.9"/>
<line x1="359.0" y1="359.9" x2="359.0" y2="361.9" stroke="#111" stroke-width="0.9"/>
<text x="88.6" y="372.4" font-size="10.47" text-anchor="middle" fill="#15152e">500</text>
<text x="143.6" y="372.4" font-size="10.47" text-anchor="middle" fill="#15152e">600</text>
<text x="198.6" y="372.4" font-size="10.47" text-anchor="middle" fill="#15152e">700</text>
<text x="252.9" y="372.4" font-size="10.47" text-anchor="middle" fill="#15152e">800</text>
<text x="308.0" y="372.4" font-size="10.47" text-anchor="middle" fill="#15152e">900</text>
<text x="36.5" y="329.8" font-size="10.61" textLength="89.2" lengthAdjust="spacingAndGlyphs" fill="#141414">COV = 5.1 to 6.2 V</text>
<text x="336.3" y="331.3" font-size="16.28" textLength="17.9" lengthAdjust="spacingAndGlyphs" fill="#141414" stroke="#141414" stroke-width="0.45">PS</text>
<path d="M36.0,359.9v-0.9M37.8,359.9v-2.2M38.4,359.9v-0.9M39.3,359.9v-2.5M39.9,359.9v-2.4M43.7,359.9v-0.9M46.5,359.9v-1.5M48.4,359.9v-3.4M48.7,359.9v-0.8M58.8,359.9v-1.4M59.6,359.9v-1.2M61.2,359.9v-3.2M62.0,359.9v-1.0M65.2,359.9v-1.8M76.1,359.9v-2.8M77.7,359.9v-1.0M84.2,359.9v-3.4M84.3,359.9v-2.4M91.5,359.9v-2.1M92.4,359.9v-2.6M97.1,359.9v-1.0M100.7,359.9v-1.0M100.9,359.9v-1.3M102.3,359.9v-1.4M106.1,359.9v-2.8M117.7,359.9v-3.3M135.7,359.9v-2.6M137.0,359.9v-1.0M140.5,359.9v-1.8M144.5,359.9v-0.9M145.2,359.9v-3.1M148.5,359.9v-2.3M148.9,359.9v-1.4M157.5,359.9v-2.1M174.6,359.9v-1.0M176.7,359.9v-2.6M178.8,359.9v-2.6" stroke="#1c1cff" stroke-width="0.9" fill="none" opacity="1"/>
<path d="M180.0,360.4 L180.0,359.2 L181.0,358.6 L181.7,359.4 L182.4,360.4 L183.2,360.4 L183.9,358.8 L184.8,360.4 L185.4,360.4 L186.2,358.8 L187.2,359.1 L187.9,359.6 L188.8,359.2 L189.5,359.6 L190.5,358.9 L191.4,360.4 L192.0,360.4 L193.0,359.4 L194.0,358.6 L194.6,358.3 L195.3,359.7 L196.0,360.4 L196.7,360.4 L197.4,360.4 L198.2,359.6 L199.2,359.3 L200.2,358.4 L201.1,359.7 L202.0,359.5 L202.9,359.5 L203.7,360.4 L204.7,359.6 L205.5,360.4 L206.2,358.4 L207.1,358.8 L207.8,358.3 L208.5,358.3 L209.2,358.3 L209.8,359.2 L210.8,360.4 L211.7,358.6 L212.6,359.1 L213.4,359.4 L214.2,359.4 L214.8,358.4 L215.5,358.7 L216.3,360.4 L217.3,359.5 L218.2,359.1 L218.8,360.4 L219.7,359.0 L220.4,358.8 L221.2,359.5 L222.0,358.4 L223.0,358.8 L223.7,358.6 L224.6,360.4 L225.3,360.4 L226.1,360.4 L226.7,360.4 L227.7,358.6 L228.7,358.7 L229.5,359.6 L230.2,360.4 L231.0,358.3 L231.9,360.4 L233.0,359.0 L233.7,359.5 L234.3,359.6 L235.0,360.4 L235.9,359.6 L236.8,360.4 L237.8,360.4 L238.6,358.6 L239.4,360.4 L240.4,359.6 L241.3,358.9 L242.2,359.6 L242.8,359.6 L243.0,360.4 Z" fill="#1c1cff"/>
<path d="M246.0,360.4 L246.0,358.4 L246.9,359.3 L247.9,358.4 L248.9,359.3 L249.6,358.8 L250.5,357.8 L251.1,359.2 L251.7,359.5 L252.3,359.4 L253.0,360.4 L253.9,360.4 L254.6,360.4 L255.6,358.2 L256.6,359.2 L257.3,358.8 L258.4,358.4 L259.4,358.6 L260.2,360.4 L260.9,359.1 L261.8,358.8 L262.5,358.3 L263.0,359.5 L264.1,360.4 L264.7,358.8 L265.2,358.2 L265.9,359.3 L266.7,359.5 L267.4,358.7 L268.2,360.4 L269.1,358.0 L269.7,359.5 L270.5,359.1 L271.4,359.5 L272.4,359.5 L273.3,359.2 L274.3,360.4 L275.0,358.2 L275.7,357.7 L276.5,358.5 L277.1,358.6 L277.9,358.1 L278.5,358.9 L279.5,357.8 L280.4,359.4 L281.2,359.4 L282.0,359.2 L282.9,360.4 L283.7,358.8 L284.7,359.5 L285.5,359.1 L286.3,358.3 L287.1,358.9 L287.7,357.7 L288.3,358.4 L289.1,358.2 L290.0,359.2 L290.6,359.4 L291.4,360.4 L292.3,359.5 L293.1,360.4 L293.9,358.4 L294.7,359.2 L295.5,359.2 L296.4,360.4 L297.0,359.2 L297.6,359.1 L298.2,357.7 L298.8,359.3 L299.4,359.3 L300.1,359.5 L300.9,360.4 L301.7,360.4 L302.7,358.7 L303.3,360.4 L304.0,359.5 L304.6,359.3 L305.3,359.3 L306.1,359.0 L306.7,359.3 L307.7,359.2 L308.6,359.4 L309.3,358.1 L310.0,358.1 L310.6,360.4 L311.3,359.1 L311.9,357.7 L312.7,359.3 L313.7,359.0 L314.3,359.2 L315.3,360.4 L316.2,358.7 L317.2,358.5 L317.8,359.0 L318.5,359.5 L319.2,360.4 L319.9,359.5 L320.5,359.5 L321.5,360.4 L322.3,360.4 L322.8,358.9 L323.6,359.2 L324.2,360.4 L325.0,359.3 L325.8,359.2 L326.5,359.2 L327.3,358.8 L328.2,358.8 L328.9,359.0 L329.8,360.4 L330.7,358.2 L331.6,358.9 L332.6,359.4 L333.6,359.4 L334.3,358.8 L335.2,358.9 L336.1,359.0 L337.1,359.5 L338.0,360.4 L338.5,359.0 L339.1,359.4 L339.9,358.1 L340.5,358.6 L341.1,357.9 L342.0,358.1 L343.0,359.3 L343.7,358.5 L344.7,358.8 L345.0,360.4 Z" fill="#1c1cff"/>
<path d="M180.1,359.9v-1.1M180.7,359.9v-3.5M181.9,359.9v-2.7M182.1,359.9v-1.9M185.1,359.9v-1.9M190.0,359.9v-3.4M190.7,359.9v-0.8M193.1,359.9v-0.9M193.1,359.9v-2.7M196.2,359.9v-3.2M201.3,359.9v-1.0M201.4,359.9v-0.9M207.8,359.9v-0.9M208.1,359.9v-0.8M208.2,359.9v-0.8M208.9,359.9v-1.0M209.5,359.9v-3.6M209.8,359.9v-3.1M212.0,359.9v-2.1M213.5,359.9v-2.9M214.9,359.9v-1.1M215.6,359.9v-1.1M216.5,359.9v-3.9M217.4,359.9v-0.8M218.5,359.9v-3.1M219.5,359.9v-2.6M219.6,359.9v-0.8M221.4,359.9v-0.8M222.0,359.9v-1.5M222.4,359.9v-0.8M222.4,359.9v-3.8M224.3,359.9v-3.8M225.5,359.9v-3.8M228.8,359.9v-2.3M230.0,359.9v-1.9M230.4,359.9v-1.5M232.6,359.9v-1.0M235.7,359.9v-1.9M237.3,359.9v-3.1M239.0,359.9v-0.9M239.5,359.9v-0.8M239.5,359.9v-3.8M241.0,359.9v-3.8" stroke="#1c1cff" stroke-width="0.9" fill="none" opacity="1"/>
<path d="M247.1,359.9v-2.5M249.2,359.9v-1.3M250.5,359.9v-3.8M253.5,359.9v-1.0M254.8,359.9v-2.5M255.7,359.9v-4.2M256.6,359.9v-1.8M260.2,359.9v-2.5M260.7,359.9v-1.4M261.5,359.9v-0.8M262.7,359.9v-3.0M263.4,359.9v-3.6M266.7,359.9v-2.2M268.1,359.9v-0.9M268.2,359.9v-4.3M268.6,359.9v-1.1M271.4,359.9v-3.1M271.6,359.9v-1.4M271.9,359.9v-1.3M272.0,359.9v-2.1M272.4,359.9v-1.6M272.7,359.9v-0.9M272.7,359.9v-3.7M274.4,359.9v-2.2M274.6,359.9v-1.0M274.7,359.9v-1.4M274.8,359.9v-1.3M275.1,359.9v-1.1M276.4,359.9v-1.8M277.2,359.9v-1.5M278.2,359.9v-3.2M278.7,359.9v-0.9M279.5,359.9v-1.6M281.4,359.9v-0.9M284.0,359.9v-0.8M284.9,359.9v-1.8M285.4,359.9v-3.8M286.9,359.9v-1.0M287.8,359.9v-2.4M287.8,359.9v-0.9M289.0,359.9v-3.0M289.7,359.9v-1.7M290.6,359.9v-1.2M293.2,359.9v-4.2M294.1,359.9v-0.8M294.7,359.9v-3.3M295.2,359.9v-0.9M295.4,359.9v-2.9M296.7,359.9v-1.3M297.9,359.9v-3.1M302.1,359.9v-3.5M302.8,359.9v-3.4M306.1,359.9v-3.7M307.8,359.9v-2.3M308.7,359.9v-3.6M309.9,359.9v-2.9M310.2,359.9v-0.9M310.6,359.9v-2.3M311.7,359.9v-1.1M312.0,359.9v-4.1M312.1,359.9v-4.0M313.9,359.9v-2.3M320.7,359.9v-2.7M320.7,359.9v-4.1M321.4,359.9v-3.9M323.5,359.9v-1.0M323.5,359.9v-0.8M325.4,359.9v-3.3M325.7,359.9v-0.9M326.3,359.9v-3.3M328.0,359.9v-3.7M332.3,359.9v-3.1M334.5,359.9v-0.8M334.6,359.9v-3.6M335.8,359.9v-1.4M335.9,359.9v-1.4M336.5,359.9v-2.0M337.2,359.9v-1.1M337.3,359.9v-1.1M337.5,359.9v-0.9M338.1,359.9v-0.9M340.2,359.9v-2.2M340.9,359.9v-2.6M341.3,359.9v-0.8M341.4,359.9v-1.4M341.9,359.9v-1.2M342.4,359.9v-3.5M342.4,359.9v-1.8M343.0,359.9v-1.3M344.6,359.9v-1.1M344.7,359.9v-1.0" stroke="#1c1cff" stroke-width="0.9" fill="none" opacity="1"/>
<rect x="79.05" y="353.2" width="1.10" height="6.7" fill="#1c1cff"/>
<rect x="80.30" y="356.0" width="1.00" height="3.9" fill="#1c1cff"/>
<rect x="139.90" y="354.5" width="1.00" height="5.4" fill="#1c1cff"/>
<rect x="143.00" y="356.5" width="1.00" height="3.4" fill="#1c1cff"/>
<rect x="208.35" y="353.0" width="1.10" height="6.9" fill="#1c1cff"/>
<rect x="242.00" y="317.9" width="2.00" height="42.0" fill="#1c1cff"/>
<rect x="244.15" y="334.4" width="1.30" height="25.5" fill="#1c1cff"/>
<rect x="245.40" y="351.5" width="1.00" height="8.4" fill="#1c1cff"/>
<rect x="248.05" y="348.7" width="0.90" height="11.2" fill="#1c1cff"/>
<rect x="288.10" y="353.7" width="1.00" height="6.2" fill="#1c1cff"/>
<rect x="303.90" y="354.5" width="1.00" height="5.4" fill="#1c1cff"/>
<path d="M255.0,359.9 L256.0,353.5 L257.0,352.3 L259.0,353.5 L260.5,355.5 L262.0,357.0 L263.0,359.9 Z" fill="#1c1cff"/>
<line x1="208.9" y1="346.5" x2="208.9" y2="351.5" stroke="#0a0a0a" stroke-width="0.95"/>
<line x1="239.5" y1="323.6" x2="242.8" y2="327.9" stroke="#0a0a0a" stroke-width="0.95"/>
<line x1="243.0" y1="317.9" x2="248.5" y2="322.2" stroke="#0a0a0a" stroke-width="0.95"/>
<line x1="241.6" y1="335.8" x2="243.8" y2="340.1" stroke="#0a0a0a" stroke-width="0.95"/>
<line x1="248.8" y1="339.4" x2="245.2" y2="345.1" stroke="#0a0a0a" stroke-width="0.95"/>
<line x1="240.9" y1="348.7" x2="246.2" y2="354.4" stroke="#0a0a0a" stroke-width="0.95"/>
<line x1="256.6" y1="352.3" x2="261.7" y2="349.4" stroke="#0a0a0a" stroke-width="0.95"/>
<line x1="304.4" y1="345.8" x2="304.4" y2="352.5" stroke="#0a0a0a" stroke-width="0.95"/>
<text x="213.0" y="321.7" font-size="8.14" textLength="21.7" lengthAdjust="spacingAndGlyphs" fill="#0c0c0c" stroke="#0c0c0c" stroke-width="0.3">788.38</text>
<text x="215.8" y="335.0" font-size="8.14" textLength="21.2" lengthAdjust="spacingAndGlyphs" fill="#0c0c0c" stroke="#0c0c0c" stroke-width="0.3">789.41</text>
<text x="215.8" y="346.9" font-size="8.14" textLength="21.2" lengthAdjust="spacingAndGlyphs" fill="#0c0c0c" stroke="#0c0c0c" stroke-width="0.3">790.31</text>
<text x="188.6" y="347.6" font-size="8.14" textLength="21.5" lengthAdjust="spacingAndGlyphs" fill="#0c0c0c" stroke="#0c0c0c" stroke-width="0.3">723.56</text>
<text x="247.3" y="330.7" font-size="8.14" textLength="22.2" lengthAdjust="spacingAndGlyphs" fill="#0c0c0c" stroke="#0c0c0c" stroke-width="0.3">786.36</text>
<text x="248.8" y="339.3" font-size="8.14" textLength="21.7" lengthAdjust="spacingAndGlyphs" fill="#0c0c0c" stroke="#0c0c0c" stroke-width="0.3">787.36</text>
<text x="250.9" y="348.6" font-size="8.14" textLength="21.5" lengthAdjust="spacingAndGlyphs" fill="#0c0c0c" stroke="#0c0c0c" stroke-width="0.3">810.29</text>
<text x="275.7" y="351.5" font-size="8.14" textLength="21.5" lengthAdjust="spacingAndGlyphs" fill="#0c0c0c" stroke="#0c0c0c" stroke-width="0.3">866.41</text>
<text x="304.4" y="349.8" font-size="8.14" textLength="21.2" lengthAdjust="spacingAndGlyphs" fill="#0c0c0c" stroke="#0c0c0c" stroke-width="0.3">898.31</text>
<rect x="379.2" y="159.1" width="345.1" height="69.4" fill="none" stroke="#ff0a84" stroke-width="3.1" stroke-linejoin="round"/>
<line x1="392.8" y1="165.2" x2="392.8" y2="206.8" stroke="#111" stroke-width="1.3"/>
<line x1="390.8" y1="165.2" x2="392.8" y2="165.2" stroke="#111" stroke-width="0.85"/>
<line x1="391.7" y1="167.3" x2="392.8" y2="167.3" stroke="#111" stroke-width="0.85"/>
<line x1="391.7" y1="169.3" x2="392.8" y2="169.3" stroke="#111" stroke-width="0.85"/>
<line x1="391.7" y1="171.4" x2="392.8" y2="171.4" stroke="#111" stroke-width="0.85"/>
<line x1="391.7" y1="173.4" x2="392.8" y2="173.4" stroke="#111" stroke-width="0.85"/>
<line x1="390.8" y1="175.5" x2="392.8" y2="175.5" stroke="#111" stroke-width="0.85"/>
<line x1="391.7" y1="177.5" x2="392.8" y2="177.5" stroke="#111" stroke-width="0.85"/>
<line x1="391.7" y1="179.6" x2="392.8" y2="179.6" stroke="#111" stroke-width="0.85"/>
<line x1="391.7" y1="181.6" x2="392.8" y2="181.6" stroke="#111" stroke-width="0.85"/>
<line x1="391.7" y1="183.7" x2="392.8" y2="183.7" stroke="#111" stroke-width="0.85"/>
<line x1="390.8" y1="185.8" x2="392.8" y2="185.8" stroke="#111" stroke-width="0.85"/>
<line x1="391.7" y1="187.8" x2="392.8" y2="187.8" stroke="#111" stroke-width="0.85"/>
<line x1="391.7" y1="189.9" x2="392.8" y2="189.9" stroke="#111" stroke-width="0.85"/>
<line x1="391.7" y1="191.9" x2="392.8" y2="191.9" stroke="#111" stroke-width="0.85"/>
<line x1="391.7" y1="194.0" x2="392.8" y2="194.0" stroke="#111" stroke-width="0.85"/>
<line x1="390.8" y1="196.0" x2="392.8" y2="196.0" stroke="#111" stroke-width="0.85"/>
<line x1="391.7" y1="198.1" x2="392.8" y2="198.1" stroke="#111" stroke-width="0.85"/>
<line x1="391.7" y1="200.1" x2="392.8" y2="200.1" stroke="#111" stroke-width="0.85"/>
<line x1="391.7" y1="202.2" x2="392.8" y2="202.2" stroke="#111" stroke-width="0.85"/>
<line x1="391.7" y1="204.2" x2="392.8" y2="204.2" stroke="#111" stroke-width="0.85"/>
<line x1="390.8" y1="206.3" x2="392.8" y2="206.3" stroke="#111" stroke-width="0.85"/>
<line x1="392.2" y1="206.3" x2="718.6" y2="206.3" stroke="#111" stroke-width="1.2"/>
<line x1="419.0" y1="206.3" x2="419.0" y2="208.3" stroke="#111" stroke-width="0.9"/>
<line x1="446.2" y1="206.3" x2="446.2" y2="208.3" stroke="#111" stroke-width="0.9"/>
<line x1="473.4" y1="206.3" x2="473.4" y2="208.3" stroke="#111" stroke-width="0.9"/>
<line x1="500.6" y1="206.3" x2="500.6" y2="208.3" stroke="#111" stroke-width="0.9"/>
<line x1="527.8" y1="206.3" x2="527.8" y2="208.3" stroke="#111" stroke-width="0.9"/>
<line x1="555.0" y1="206.3" x2="555.0" y2="208.3" stroke="#111" stroke-width="0.9"/>
<line x1="582.2" y1="206.3" x2="582.2" y2="208.3" stroke="#111" stroke-width="0.9"/>
<line x1="609.4" y1="206.3" x2="609.4" y2="208.3" stroke="#111" stroke-width="0.9"/>
<line x1="636.6" y1="206.3" x2="636.6" y2="208.3" stroke="#111" stroke-width="0.9"/>
<line x1="663.8" y1="206.3" x2="663.8" y2="208.3" stroke="#111" stroke-width="0.9"/>
<line x1="691.0" y1="206.3" x2="691.0" y2="208.3" stroke="#111" stroke-width="0.9"/>
<line x1="718.2" y1="206.3" x2="718.2" y2="208.3" stroke="#111" stroke-width="0.9"/>
<text x="449.8" y="219.9" font-size="10.47" text-anchor="middle" fill="#15152e">500</text>
<text x="503.6" y="219.9" font-size="10.47" text-anchor="middle" fill="#15152e">600</text>
<text x="558.2" y="219.9" font-size="10.47" text-anchor="middle" fill="#15152e">700</text>
<text x="611.5" y="219.9" font-size="10.47" text-anchor="middle" fill="#15152e">800</text>
<text x="665.4" y="219.9" font-size="10.47" text-anchor="middle" fill="#15152e">900</text>
<text x="398.6" y="179.5" font-size="10.61" textLength="96.8" lengthAdjust="spacingAndGlyphs" fill="#141414">COV = -2.2 to -1.0 V</text>
<text x="697.6" y="181.8" font-size="16.28" textLength="17.7" lengthAdjust="spacingAndGlyphs" fill="#141414" stroke="#141414" stroke-width="0.45">PE</text>
<rect x="427.70" y="204.6" width="1.20" height="1.7" fill="#1c1cff"/>
<rect x="435.80" y="204.8" width="1.20" height="1.5" fill="#1c1cff"/>
<rect x="457.60" y="204.8" width="1.20" height="1.5" fill="#1c1cff"/>
<rect x="497.40" y="204.8" width="1.20" height="1.5" fill="#1c1cff"/>
<rect x="539.70" y="204.4" width="1.20" height="1.9" fill="#1c1cff"/>
<rect x="543.00" y="204.4" width="1.20" height="1.9" fill="#1c1cff"/>
<rect x="546.20" y="204.4" width="1.20" height="1.9" fill="#1c1cff"/>
<rect x="553.40" y="188.1" width="1.40" height="18.2" fill="#1c1cff"/>
<rect x="554.50" y="201.0" width="1.40" height="5.3" fill="#1c1cff"/>
<rect x="561.80" y="203.1" width="1.80" height="3.2" fill="#1c1cff"/>
<rect x="566.80" y="193.8" width="2.20" height="12.5" fill="#1c1cff"/>
<rect x="568.35" y="183.1" width="1.50" height="23.2" fill="#1c1cff"/>
<rect x="569.50" y="195.2" width="1.40" height="11.1" fill="#1c1cff"/>
<rect x="576.40" y="203.0" width="1.20" height="3.3" fill="#1c1cff"/>
<rect x="577.35" y="183.1" width="1.30" height="23.2" fill="#1c1cff"/>
<rect x="578.40" y="201.5" width="1.20" height="4.8" fill="#1c1cff"/>
<rect x="581.15" y="193.1" width="1.50" height="13.2" fill="#1c1cff"/>
<rect x="581.70" y="198.8" width="2.60" height="7.5" fill="#1c1cff"/>
<rect x="590.45" y="164.9" width="1.50" height="41.4" fill="#1c1cff"/>
<rect x="589.90" y="202.4" width="3.00" height="3.9" fill="#1c1cff"/>
<rect x="620.90" y="204.8" width="1.20" height="1.5" fill="#1c1cff"/>
<rect x="627.40" y="204.3" width="2.20" height="2.0" fill="#1c1cff"/>
<rect x="665.40" y="204.8" width="1.20" height="1.5" fill="#1c1cff"/>
<line x1="554.1" y1="182.4" x2="554.1" y2="186.9" stroke="#0a0a0a" stroke-width="0.95"/>
<line x1="550.1" y1="192.4" x2="554.4" y2="197.4" stroke="#0a0a0a" stroke-width="0.95"/>
<line x1="591.2" y1="164.9" x2="595.6" y2="169.2" stroke="#0a0a0a" stroke-width="0.95"/>
<line x1="591.6" y1="183.5" x2="595.9" y2="188.8" stroke="#0a0a0a" stroke-width="0.95"/>
<text x="530.1" y="179.4" font-size="8.14" textLength="22.3" lengthAdjust="spacingAndGlyphs" fill="#0c0c0c" stroke="#0c0c0c" stroke-width="0.3">698.42</text>
<text x="525.1" y="190.8" font-size="8.14" textLength="22.3" lengthAdjust="spacingAndGlyphs" fill="#0c0c0c" stroke="#0c0c0c" stroke-width="0.3">699.37</text>
<text x="559.0" y="179.4" font-size="8.14" textLength="21.5" lengthAdjust="spacingAndGlyphs" fill="#0c0c0c" stroke="#0c0c0c" stroke-width="0.3">726.42</text>
<text x="593.7" y="178.1" font-size="8.14" textLength="21.8" lengthAdjust="spacingAndGlyphs" fill="#0c0c0c" stroke="#0c0c0c" stroke-width="0.3">766.38</text>
<text x="595.2" y="195.9" font-size="8.14" textLength="22.1" lengthAdjust="spacingAndGlyphs" fill="#0c0c0c" stroke="#0c0c0c" stroke-width="0.3">767.40</text>
<rect x="379.2" y="234.4" width="345.1" height="68.4" fill="none" stroke="#ffc10d" stroke-width="3.1" stroke-linejoin="round"/>
<line x1="390.3" y1="241.9" x2="390.3" y2="284.0" stroke="#111" stroke-width="1.2"/>
<line x1="388.0" y1="241.9" x2="390.3" y2="241.9" stroke="#111" stroke-width="0.9"/>
<line x1="388.0" y1="264.2" x2="390.3" y2="264.2" stroke="#111" stroke-width="0.9"/>
<line x1="388.0" y1="283.5" x2="718.6" y2="283.5" stroke="#111" stroke-width="1.2"/>
<line x1="418.5" y1="283.5" x2="418.5" y2="285.5" stroke="#111" stroke-width="0.9"/>
<line x1="445.7" y1="283.5" x2="445.7" y2="285.5" stroke="#111" stroke-width="0.9"/>
<line x1="472.9" y1="283.5" x2="472.9" y2="285.5" stroke="#111" stroke-width="0.9"/>
<line x1="500.1" y1="283.5" x2="500.1" y2="285.5" stroke="#111" stroke-width="0.9"/>
<line x1="527.3" y1="283.5" x2="527.3" y2="285.5" stroke="#111" stroke-width="0.9"/>
<line x1="554.5" y1="283.5" x2="554.5" y2="285.5" stroke="#111" stroke-width="0.9"/>
<line x1="581.7" y1="283.5" x2="581.7" y2="285.5" stroke="#111" stroke-width="0.9"/>
<line x1="608.9" y1="283.5" x2="608.9" y2="285.5" stroke="#111" stroke-width="0.9"/>
<line x1="636.1" y1="283.5" x2="636.1" y2="285.5" stroke="#111" stroke-width="0.9"/>
<line x1="663.3" y1="283.5" x2="663.3" y2="285.5" stroke="#111" stroke-width="0.9"/>
<line x1="690.5" y1="283.5" x2="690.5" y2="285.5" stroke="#111" stroke-width="0.9"/>
<line x1="717.7" y1="283.5" x2="717.7" y2="285.5" stroke="#111" stroke-width="0.9"/>
<text x="448.0" y="296.9" font-size="10.47" text-anchor="middle" fill="#15152e">500</text>
<text x="502.3" y="296.9" font-size="10.47" text-anchor="middle" fill="#15152e">600</text>
<text x="557.7" y="296.9" font-size="10.47" text-anchor="middle" fill="#15152e">700</text>
<text x="612.2" y="296.9" font-size="10.47" text-anchor="middle" fill="#15152e">800</text>
<text x="665.4" y="296.9" font-size="10.47" text-anchor="middle" fill="#15152e">900</text>
<text x="396.6" y="257.4" font-size="10.61" textLength="89.4" lengthAdjust="spacingAndGlyphs" fill="#141414">COV = 2.3 to 3.3 V</text>
<text x="697.6" y="257.2" font-size="16.28" textLength="21.0" lengthAdjust="spacingAndGlyphs" fill="#141414" stroke="#141414" stroke-width="0.45">PG</text>
<path d="M393.0,284.0 L393.0,284.0 L393.7,284.0 L394.7,284.0 L395.6,284.0 L396.3,283.3 L397.2,283.1 L398.0,284.0 L398.6,283.5 L399.5,283.5 L400.5,284.0 L401.4,283.5 L402.3,283.5 L403.2,284.0 L404.2,283.0 L404.8,284.0 L405.7,283.5 L406.6,283.4 L407.3,283.4 L408.2,284.0 L408.9,284.0 L409.5,284.0 L410.4,284.0 L411.4,284.0 L412.3,283.4 L413.0,284.0 L413.5,283.1 L414.5,284.0 L415.3,284.0 L416.0,284.0 Z" fill="#1c1cff"/>
<path d="M416.0,284.0 L416.0,283.3 L416.7,284.0 L417.6,282.4 L418.2,283.3 L418.9,283.3 L419.5,282.9 L420.2,282.5 L420.8,282.7 L421.5,284.0 L422.5,283.3 L423.1,282.9 L424.1,282.9 L425.1,282.9 L426.0,282.5 L426.9,283.3 L427.5,284.0 L428.1,284.0 L428.8,284.0 L429.6,283.1 L430.3,284.0 L431.3,282.8 L431.9,283.3 L432.7,282.8 L433.5,282.5 L434.4,284.0 L435.0,283.2 L435.7,282.4 L436.4,283.1 L437.4,283.2 L438.1,283.2 L438.9,283.1 L439.6,283.0 L440.2,284.0 L440.8,282.6 L441.5,284.0 L442.3,283.0 L443.3,283.3 L444.2,282.9 L444.9,283.3 L445.7,282.3 L446.7,284.0 L447.5,284.0 L448.5,283.2 L449.3,283.3 L450.2,282.6 L451.1,284.0 L451.8,284.0 L452.8,282.5 L453.5,284.0 L454.5,283.3 L455.3,284.0 L456.2,283.3 L457.0,283.2 L458.0,283.2 L458.8,283.2 L459.5,282.8 L460.3,283.3 L460.9,282.9 L461.6,284.0 L462.2,283.2 L463.2,283.3 L463.9,283.2 L464.5,282.9 L465.3,282.6 L465.9,284.0 L466.7,283.0 L467.6,282.2 L468.2,283.1 L469.2,284.0 L469.8,283.1 L470.5,284.0 L471.5,282.5 L472.3,284.0 L473.4,282.3 L474.4,283.3 L475.2,284.0 L475.9,284.0 L476.7,283.2 L477.6,283.1 L478.6,282.9 L479.5,284.0 L480.2,282.9 L481.1,283.3 L481.9,282.5 L482.5,283.3 L483.2,282.8 L483.9,284.0 L484.8,284.0 L485.7,283.1 L486.5,282.3 L487.2,283.2 L487.9,283.2 L488.7,283.3 L489.4,282.2 L490.0,284.0 L490.7,282.4 L491.7,283.3 L492.7,282.8 L493.7,283.3 L494.6,284.0 L495.5,283.3 L496.1,284.0 L497.0,284.0 L497.8,283.2 L498.7,284.0 L499.5,282.5 L500.1,283.2 L500.6,282.8 L501.3,282.9 L502.1,284.0 L502.7,282.4 L503.5,282.9 L504.1,284.0 L504.8,282.6 L505.8,283.2 L506.5,284.0 L507.4,283.1 L508.3,284.0 L509.3,282.2 L510.2,283.3 L511.2,282.3 L512.1,282.5 L512.8,283.3 L513.8,283.2 L514.7,283.2 L515.7,284.0 L516.2,284.0 L517.0,282.3 L517.6,283.1 L518.7,282.3 L519.3,283.3 L520.3,284.0 L520.9,282.7 L521.6,283.0 L522.4,283.2 L523.3,284.0 L524.3,282.7 L525.2,283.1 L525.8,283.2 L526.5,282.7 L527.2,283.1 L528.0,284.0 L528.6,282.3 L529.5,282.8 L530.2,283.3 L530.9,282.9 L531.7,283.0 L532.4,282.4 L533.4,284.0 L534.0,282.8 L534.7,282.6 L535.6,284.0 L536.2,284.0 L536.9,282.5 L537.5,282.8 L538.1,283.0 L538.8,283.3 L539.7,283.3 L540.5,284.0 L541.5,283.3 L542.2,283.0 L543.1,282.2 L544.0,282.4 L544.8,283.0 L545.8,282.4 L546.7,283.2 L547.4,282.6 L548.2,283.2 L548.8,284.0 L549.5,282.9 L550.1,284.0 L551.0,283.3 L551.8,283.1 L552.4,282.4 L553.3,282.5 L554.2,283.3 L554.9,282.5 L555.9,282.6 L556.8,283.2 L557.4,283.3 L558.2,283.1 L558.8,283.3 L559.7,284.0 L560.0,284.0 Z" fill="#1c1cff"/>
<path d="M560.0,284.0 L560.0,284.0 L560.9,282.5 L561.8,282.5 L562.6,284.0 L563.3,281.6 L564.2,282.5 L564.8,281.6 L565.6,282.4 L566.3,282.2 L567.2,282.6 L567.7,284.0 L568.7,282.7 L569.7,282.9 L570.7,281.3 L571.6,282.1 L572.5,282.7 L573.3,282.8 L574.3,282.9 L575.2,282.8 L576.0,282.3 L576.6,281.8 L577.6,282.9 L578.7,282.9 L579.3,282.0 L579.9,282.9 L580.7,282.9 L581.3,281.2 L581.9,281.1 L582.9,282.6 L583.8,281.3 L584.7,281.5 L585.5,282.9 L586.1,282.5 L587.0,282.7 L587.8,282.7 L588.6,282.8 L589.5,281.2 L590.4,282.8 L591.1,282.6 L592.1,282.5 L592.7,284.0 L593.5,282.4 L594.5,281.3 L595.3,282.9 L596.3,282.9 L597.2,282.1 L597.8,282.9 L598.6,282.7 L599.2,282.0 L599.8,284.0 L600.5,282.7 L601.4,284.0 L602.3,282.8 L603.2,282.1 L603.9,282.7 L604.7,281.4 L605.6,281.6 L606.5,282.3 L607.3,281.3 L608.2,282.2 L608.7,281.5 L609.6,281.4 L610.3,282.2 L611.2,282.7 L612.0,282.7 L612.7,282.7 L613.4,282.6 L614.1,282.0 L614.9,281.7 L615.6,282.6 L616.6,282.2 L617.4,284.0 L618.0,281.7 L618.7,281.3 L619.6,281.4 L620.2,281.4 L620.9,281.5 L621.9,282.9 L622.8,281.8 L623.5,282.0 L624.2,282.5 L625.0,282.1 L625.6,282.4 L626.6,282.0 L627.2,282.0 L628.1,281.3 L628.8,282.7 L629.4,281.6 L630.0,282.8 L631.0,282.9 L631.9,281.4 L632.9,282.8 L633.8,284.0 L634.4,282.9 L635.4,281.7 L636.3,282.7 L637.1,282.1 L637.8,282.5 L638.7,282.0 L639.5,282.8 L640.0,284.0 Z" fill="#1c1cff"/>
<path d="M640.0,284.0 L640.0,282.7 L641.0,283.0 L641.5,284.0 L642.1,282.7 L643.1,282.9 L643.9,282.9 L644.5,282.6 L645.1,284.0 L645.7,283.1 L646.6,283.1 L647.3,282.0 L648.0,283.0 L648.6,282.2 L649.3,284.0 L650.2,282.5 L650.9,282.5 L651.8,283.0 L652.6,282.4 L653.3,282.2 L653.9,283.0 L654.4,282.5 L655.3,282.9 L655.9,284.0 L656.6,282.6 L657.2,283.1 L658.1,284.0 L658.7,282.2 L659.6,282.5 L660.3,284.0 L661.0,282.5 L661.6,282.2 L662.3,283.0 L662.9,282.1 L663.8,282.7 L664.5,282.8 L665.3,283.1 L666.0,282.5 L666.6,282.5 L667.6,284.0 L668.5,283.0 L669.4,283.0 L670.3,283.1 L670.9,283.1 L672.0,283.0 L672.8,282.9 L673.5,282.0 L674.1,281.9 L675.0,282.9 L676.0,282.4 L676.8,282.4 L677.7,284.0 L678.4,283.0 L679.1,283.1 L679.7,282.7 L680.5,283.1 L681.5,282.5 L682.4,282.6 L683.1,282.2 L683.7,283.1 L684.3,284.0 L685.1,282.0 L685.7,281.9 L686.7,283.0 L687.4,284.0 L688.1,282.2 L689.0,283.0 L689.8,282.8 L690.7,282.1 L691.5,282.8 L692.4,283.0 L693.4,282.5 L694.0,284.0 L694.7,283.1 L695.4,282.8 L696.0,282.9 L696.6,282.5 L697.3,282.1 L698.1,283.1 L698.9,282.5 L699.8,282.5 L700.8,282.2 L701.6,283.1 L702.4,283.0 L703.4,282.9 L704.4,284.0 L704.9,282.6 L705.9,281.9 L706.6,282.1 L707.4,284.0 L708.0,284.0 L708.9,283.1 L709.9,282.5 L710.7,282.4 L711.4,282.6 L712.3,281.8 L713.1,284.0 L713.9,283.0 L714.6,283.0 L715.6,283.1 L716.4,283.1 L717.0,284.0 L717.9,283.1 L718.5,284.0 Z" fill="#1c1cff"/>
<path d="M442.1,283.5v-1.3M442.7,283.5v-1.1M443.2,283.5v-0.8M445.4,283.5v-0.9M447.9,283.5v-1.8M448.1,283.5v-1.6M449.1,283.5v-1.9M458.0,283.5v-0.9M470.6,283.5v-1.7M471.1,283.5v-1.2M479.1,283.5v-2.2M480.4,283.5v-1.0M490.3,283.5v-2.3M491.0,283.5v-0.8M500.3,283.5v-1.1M503.5,283.5v-2.1M512.7,283.5v-1.6M526.1,283.5v-1.8M537.2,283.5v-1.6M543.2,283.5v-0.8M559.2,283.5v-2.2" stroke="#1c1cff" stroke-width="0.9" fill="none" opacity="1"/>
<path d="M564.4,283.5v-1.4M566.2,283.5v-3.0M566.7,283.5v-1.8M568.4,283.5v-3.4M568.5,283.5v-0.8M569.3,283.5v-2.9M573.0,283.5v-0.9M578.0,283.5v-1.8M584.9,283.5v-3.3M585.1,283.5v-3.5M586.4,283.5v-0.9M587.6,283.5v-0.8M590.4,283.5v-1.9M590.6,283.5v-1.1M592.1,283.5v-2.7M592.7,283.5v-0.9M593.6,283.5v-0.8M594.4,283.5v-3.0M594.8,283.5v-1.2M597.8,283.5v-1.0M598.0,283.5v-1.1M599.9,283.5v-2.4M602.1,283.5v-0.8M602.8,283.5v-0.9M604.5,283.5v-1.4M607.2,283.5v-1.9M609.0,283.5v-1.0M610.6,283.5v-0.8M610.8,283.5v-3.0M611.1,283.5v-0.8M613.7,283.5v-1.0M614.4,283.5v-2.0M620.0,283.5v-0.8M622.1,283.5v-0.8M625.1,283.5v-1.4M625.3,283.5v-1.4M627.4,283.5v-0.9M628.3,283.5v-2.7M631.8,283.5v-2.5M633.0,283.5v-2.4M633.3,283.5v-1.4M634.1,283.5v-0.9M634.2,283.5v-0.8" stroke="#1c1cff" stroke-width="0.9" fill="none" opacity="1"/>
<path d="M641.4,283.5v-1.3M643.5,283.5v-1.2M645.9,283.5v-1.2M646.0,283.5v-1.3M646.1,283.5v-0.9M647.1,283.5v-2.7M649.3,283.5v-1.6M657.6,283.5v-2.5M660.4,283.5v-1.0M662.9,283.5v-1.2M673.4,283.5v-0.8M675.0,283.5v-1.9M678.0,283.5v-1.6M682.8,283.5v-1.0M688.9,283.5v-2.5M689.1,283.5v-1.1M690.6,283.5v-1.2M693.2,283.5v-1.0M696.6,283.5v-2.4M705.4,283.5v-2.3M706.2,283.5v-2.0M711.1,283.5v-1.7M714.9,283.5v-1.1" stroke="#1c1cff" stroke-width="0.9" fill="none" opacity="1"/>
<rect x="579.95" y="241.2" width="1.10" height="42.3" fill="#1c1cff"/>
<rect x="579.60" y="261.0" width="2.00" height="22.5" fill="#1c1cff"/>
<rect x="591.80" y="274.8" width="1.00" height="8.7" fill="#1c1cff"/>
<rect x="593.70" y="274.8" width="1.00" height="8.7" fill="#1c1cff"/>
<rect x="591.50" y="278.4" width="3.60" height="5.1" fill="#1c1cff"/>
<rect x="606.65" y="279.1" width="1.30" height="4.4" fill="#1c1cff"/>
<path d="M568.5,283.5 L570.0,281.0 L571.2,279.8 L572.5,281.0 L574.0,283.5 Z" fill="#1c1cff"/>
<path d="M578.0,283.5 L579.3,279.0 L582.0,279.0 L583.5,283.5 Z" fill="#1c1cff"/>
<line x1="580.5" y1="241.2" x2="584.4" y2="245.5" stroke="#0a0a0a" stroke-width="0.95"/>
<line x1="575.8" y1="256.9" x2="581.5" y2="261.9" stroke="#0a0a0a" stroke-width="0.95"/>
<line x1="576.5" y1="272.0" x2="581.5" y2="277.7" stroke="#0a0a0a" stroke-width="0.95"/>
<line x1="608.8" y1="269.8" x2="595.2" y2="277.7" stroke="#0a0a0a" stroke-width="0.95"/>
<text x="551.4" y="256.1" font-size="8.14" textLength="22.0" lengthAdjust="spacingAndGlyphs" fill="#0c0c0c" stroke="#0c0c0c" stroke-width="0.3">748.35</text>
<text x="551.4" y="271.8" font-size="8.14" textLength="22.0" lengthAdjust="spacingAndGlyphs" fill="#0c0c0c" stroke="#0c0c0c" stroke-width="0.3">749.42</text>
<text x="583.6" y="254.9" font-size="8.14" textLength="21.8" lengthAdjust="spacingAndGlyphs" fill="#0c0c0c" stroke="#0c0c0c" stroke-width="0.3">747.38</text>
<text x="608.4" y="270.1" font-size="8.14" textLength="21.6" lengthAdjust="spacingAndGlyphs" fill="#0c0c0c" stroke="#0c0c0c" stroke-width="0.3">775.37</text>
<rect x="380.0" y="309.9" width="344.5" height="69.1" fill="none" stroke="#ff0808" stroke-width="3.5" stroke-linejoin="round"/>
<line x1="392.8" y1="318.2" x2="392.8" y2="360.4" stroke="#111" stroke-width="1.3"/>
<line x1="390.8" y1="318.2" x2="392.8" y2="318.2" stroke="#111" stroke-width="0.85"/>
<line x1="391.7" y1="320.3" x2="392.8" y2="320.3" stroke="#111" stroke-width="0.85"/>
<line x1="391.7" y1="322.4" x2="392.8" y2="322.4" stroke="#111" stroke-width="0.85"/>
<line x1="391.7" y1="324.5" x2="392.8" y2="324.5" stroke="#111" stroke-width="0.85"/>
<line x1="391.7" y1="326.5" x2="392.8" y2="326.5" stroke="#111" stroke-width="0.85"/>
<line x1="390.8" y1="328.6" x2="392.8" y2="328.6" stroke="#111" stroke-width="0.85"/>
<line x1="391.7" y1="330.7" x2="392.8" y2="330.7" stroke="#111" stroke-width="0.85"/>
<line x1="391.7" y1="332.8" x2="392.8" y2="332.8" stroke="#111" stroke-width="0.85"/>
<line x1="391.7" y1="334.9" x2="392.8" y2="334.9" stroke="#111" stroke-width="0.85"/>
<line x1="391.7" y1="337.0" x2="392.8" y2="337.0" stroke="#111" stroke-width="0.85"/>
<line x1="390.8" y1="339.0" x2="392.8" y2="339.0" stroke="#111" stroke-width="0.85"/>
<line x1="391.7" y1="341.1" x2="392.8" y2="341.1" stroke="#111" stroke-width="0.85"/>
<line x1="391.7" y1="343.2" x2="392.8" y2="343.2" stroke="#111" stroke-width="0.85"/>
<line x1="391.7" y1="345.3" x2="392.8" y2="345.3" stroke="#111" stroke-width="0.85"/>
<line x1="391.7" y1="347.4" x2="392.8" y2="347.4" stroke="#111" stroke-width="0.85"/>
<line x1="390.8" y1="349.5" x2="392.8" y2="349.5" stroke="#111" stroke-width="0.85"/>
<line x1="391.7" y1="351.6" x2="392.8" y2="351.6" stroke="#111" stroke-width="0.85"/>
<line x1="391.7" y1="353.6" x2="392.8" y2="353.6" stroke="#111" stroke-width="0.85"/>
<line x1="391.7" y1="355.7" x2="392.8" y2="355.7" stroke="#111" stroke-width="0.85"/>
<line x1="391.7" y1="357.8" x2="392.8" y2="357.8" stroke="#111" stroke-width="0.85"/>
<line x1="390.8" y1="359.9" x2="392.8" y2="359.9" stroke="#111" stroke-width="0.85"/>
<line x1="392.2" y1="359.9" x2="720.4" y2="359.9" stroke="#111" stroke-width="1.2"/>
<line x1="421.0" y1="359.9" x2="421.0" y2="361.9" stroke="#111" stroke-width="0.9"/>
<line x1="448.2" y1="359.9" x2="448.2" y2="361.9" stroke="#111" stroke-width="0.9"/>
<line x1="475.4" y1="359.9" x2="475.4" y2="361.9" stroke="#111" stroke-width="0.9"/>
<line x1="502.6" y1="359.9" x2="502.6" y2="361.9" stroke="#111" stroke-width="0.9"/>
<line x1="529.8" y1="359.9" x2="529.8" y2="361.9" stroke="#111" stroke-width="0.9"/>
<line x1="557.0" y1="359.9" x2="557.0" y2="361.9" stroke="#111" stroke-width="0.9"/>
<line x1="584.2" y1="359.9" x2="584.2" y2="361.9" stroke="#111" stroke-width="0.9"/>
<line x1="611.4" y1="359.9" x2="611.4" y2="361.9" stroke="#111" stroke-width="0.9"/>
<line x1="638.6" y1="359.9" x2="638.6" y2="361.9" stroke="#111" stroke-width="0.9"/>
<line x1="665.8" y1="359.9" x2="665.8" y2="361.9" stroke="#111" stroke-width="0.9"/>
<line x1="693.0" y1="359.9" x2="693.0" y2="361.9" stroke="#111" stroke-width="0.9"/>
<line x1="720.2" y1="359.9" x2="720.2" y2="361.9" stroke="#111" stroke-width="0.9"/>
<text x="450.6" y="372.4" font-size="10.47" text-anchor="middle" fill="#15152e">500</text>
<text x="504.3" y="372.4" font-size="10.47" text-anchor="middle" fill="#15152e">600</text>
<text x="559.0" y="372.4" font-size="10.47" text-anchor="middle" fill="#15152e">700</text>
<text x="613.5" y="372.4" font-size="10.47" text-anchor="middle" fill="#15152e">800</text>
<text x="668.0" y="372.4" font-size="10.47" text-anchor="middle" fill="#15152e">900</text>
<text x="397.9" y="332.8" font-size="10.61" textLength="89.4" lengthAdjust="spacingAndGlyphs" fill="#141414">COV = 7.5 to 9.1 V</text>
<text x="701.6" y="331.5" font-size="16.28" textLength="13.2" lengthAdjust="spacingAndGlyphs" fill="#141414" stroke="#141414" stroke-width="0.45">PI</text>
<rect x="461.95" y="357.0" width="1.10" height="2.9" fill="#1c1cff"/>
<rect x="491.00" y="358.0" width="1.20" height="1.9" fill="#1c1cff"/>
<rect x="500.60" y="355.2" width="1.20" height="4.7" fill="#1c1cff"/>
<rect x="500.20" y="357.6" width="2.60" height="2.3" fill="#1c1cff"/>
<rect x="512.55" y="357.0" width="1.10" height="2.9" fill="#1c1cff"/>
<rect x="568.50" y="357.0" width="1.20" height="2.9" fill="#1c1cff"/>
<rect x="569.40" y="358.3" width="1.20" height="1.6" fill="#1c1cff"/>
<rect x="591.80" y="358.0" width="1.20" height="1.9" fill="#1c1cff"/>
<rect x="629.20" y="354.8" width="2.40" height="5.1" fill="#1c1cff"/>
<rect x="636.40" y="357.6" width="1.20" height="2.3" fill="#1c1cff"/>
<rect x="637.80" y="357.2" width="1.20" height="2.7" fill="#1c1cff"/>
<rect x="644.10" y="323.6" width="1.40" height="36.3" fill="#1c1cff"/>
<rect x="644.00" y="344.4" width="2.40" height="15.5" fill="#1c1cff"/>
<rect x="643.20" y="351.6" width="4.00" height="8.3" fill="#1c1cff"/>
<rect x="649.75" y="358.0" width="1.30" height="1.9" fill="#1c1cff"/>
<rect x="652.15" y="358.0" width="1.30" height="1.9" fill="#1c1cff"/>
<rect x="657.20" y="317.7" width="1.40" height="42.2" fill="#1c1cff"/>
<rect x="656.40" y="353.2" width="3.60" height="6.7" fill="#1c1cff"/>
<rect x="665.75" y="357.8" width="1.30" height="2.1" fill="#1c1cff"/>
<rect x="671.35" y="356.0" width="1.30" height="3.9" fill="#1c1cff"/>
<rect x="672.40" y="354.8" width="1.40" height="5.1" fill="#1c1cff"/>
<rect x="673.70" y="357.0" width="1.20" height="2.9" fill="#1c1cff"/>
<rect x="677.75" y="357.8" width="1.30" height="2.1" fill="#1c1cff"/>
<line x1="657.9" y1="317.7" x2="662.4" y2="322.0" stroke="#0a0a0a" stroke-width="0.95"/>
<line x1="640.5" y1="334.8" x2="645.6" y2="339.1" stroke="#0a0a0a" stroke-width="0.95"/>
<line x1="658.4" y1="336.4" x2="663.5" y2="340.4" stroke="#0a0a0a" stroke-width="0.95"/>
<line x1="641.1" y1="348.1" x2="647.2" y2="351.9" stroke="#0a0a0a" stroke-width="0.95"/>
<line x1="617.6" y1="346.8" x2="630.9" y2="354.8" stroke="#0a0a0a" stroke-width="0.95"/>
<text x="627.2" y="320.5" font-size="8.14" textLength="21.9" lengthAdjust="spacingAndGlyphs" fill="#0c0c0c" stroke="#0c0c0c" stroke-width="0.3">861.35</text>
<text x="615.2" y="332.3" font-size="8.14" textLength="21.6" lengthAdjust="spacingAndGlyphs" fill="#0c0c0c" stroke="#0c0c0c" stroke-width="0.3">862.37</text>
<text x="615.2" y="345.6" font-size="8.14" textLength="21.6" lengthAdjust="spacingAndGlyphs" fill="#0c0c0c" stroke="#0c0c0c" stroke-width="0.3">864.36</text>
<text x="589.9" y="350.4" font-size="8.14" textLength="21.8" lengthAdjust="spacingAndGlyphs" fill="#0c0c0c" stroke="#0c0c0c" stroke-width="0.3">835.31</text>
<text x="660.5" y="330.1" font-size="8.14" textLength="21.6" lengthAdjust="spacingAndGlyphs" fill="#0c0c0c" stroke="#0c0c0c" stroke-width="0.3">885.33</text>
<text x="663.2" y="348.8" font-size="8.14" textLength="22.1" lengthAdjust="spacingAndGlyphs" fill="#0c0c0c" stroke="#0c0c0c" stroke-width="0.3">887.32</text>
<text x="142.7" y="402.8" font-size="13.52" textLength="108.0" lengthAdjust="spacingAndGlyphs" fill="#141414">Mass/Charge (Da)</text>
<text x="501.3" y="402.8" font-size="13.52" textLength="108.0" lengthAdjust="spacingAndGlyphs" fill="#141414">Mass/Charge (Da)</text>
<rect x="0" y="0" width="750" height="1.6" fill="#7f7f7f"/>
<rect x="0" y="0" width="1.7" height="419" fill="#7f7f7f"/>
<rect x="748.4" y="0" width="1.6" height="419" fill="#7f7f7f"/>
<rect x="0" y="416.6" width="750" height="2.4" fill="#7f7f7f"/>
</svg>
</body></html>
